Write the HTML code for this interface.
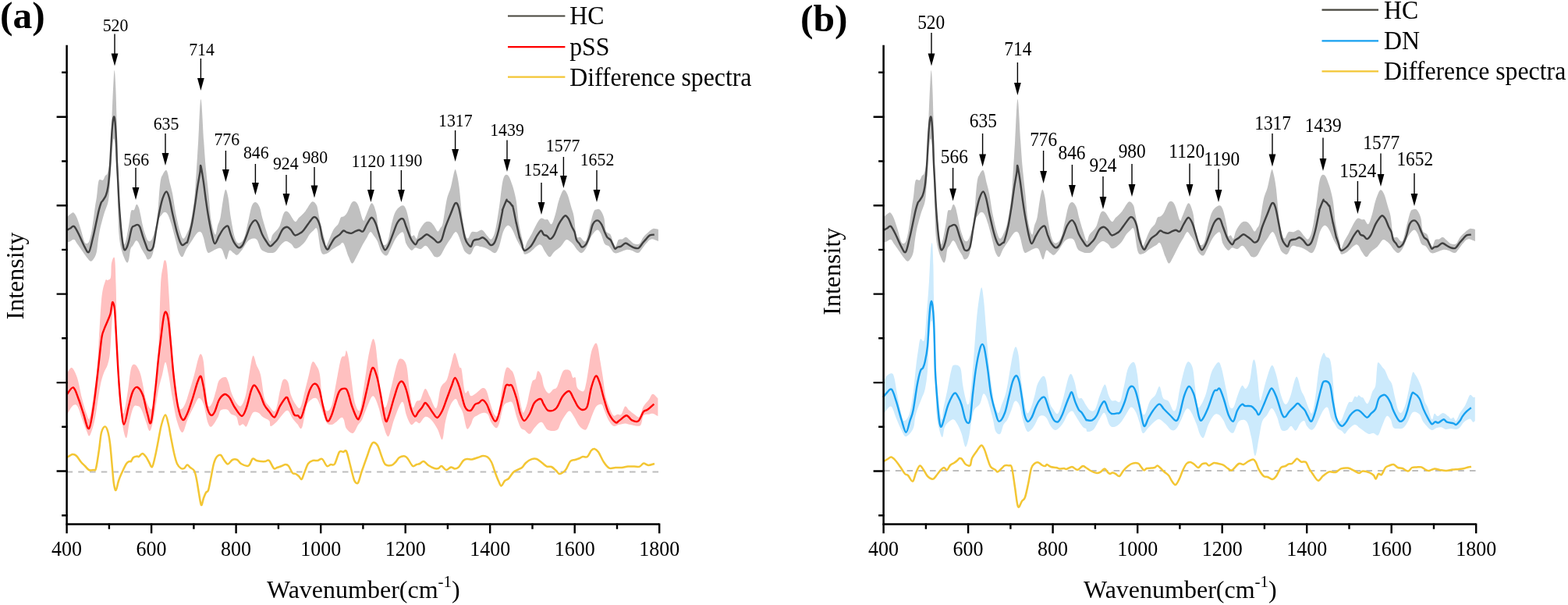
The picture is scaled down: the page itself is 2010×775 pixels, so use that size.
<!DOCTYPE html><html><head><meta charset="utf-8"><title>Raman spectra</title><style>
html,body{margin:0;padding:0;background:#fff;}
body{width:2010px;height:775px;overflow:hidden;}
svg{display:block;}
text{font-family:"Liberation Serif","Times New Roman",serif;fill:#000;}
.tk{font-size:26px;text-anchor:middle;}
.pk{font-size:21.8px;text-anchor:middle;}
.pkb{font-size:23.4px;text-anchor:middle;}
.lg{font-size:31.8px;}
.ttl{font-size:32px;}
.yl{font-size:32px;text-anchor:middle;}
.pl{font-size:49.5px;font-weight:bold;}
</style></head><body>
<svg width="2010" height="775" viewBox="0 0 2010 775">
<rect width="2010" height="775" fill="#fff"/>
<path d="M86.3 277.8C87.4 276.9 91.2 273.3 92.7 272.6C94.2 271.9 94.5 272.5 95.6 273.8C96.7 275.1 97.8 276.8 99.1 280.2C100.4 283.6 102.3 289.7 103.7 294.1C105.1 298.5 106.2 303.9 107.2 306.8C108.2 309.7 108.6 310.7 109.5 311.5C110.4 312.3 111.5 312.1 112.4 311.5C113.3 310.9 113.9 310.6 114.7 308C115.5 305.4 116.6 300.8 117.5 296C118.4 291.2 119.2 284.3 120 279C120.8 273.7 121.3 268.5 122 264C122.7 259.5 123.2 257.4 124 252C124.8 246.6 125.3 235.2 126.6 231.6C127.9 228 130.6 231.8 132 230.7C133.4 229.6 133.9 226.7 134.8 225.3C135.7 224 136.6 225 137.5 222.6C138.4 220.2 139.4 216.2 140.2 210.8C140.9 205.4 141.4 200.1 142 190C142.6 179.9 143 163.3 143.5 150C144 136.7 144.7 120 145.2 110C145.7 100 146.2 90 146.7 90C147.2 90 147.7 100 148.2 110C148.7 120 149.1 135.8 149.5 150C149.9 164.2 150.2 182.5 150.6 195C151 207.5 151.4 214.5 151.8 225C152.2 235.5 152.6 247.2 153.2 258C153.8 268.8 154.9 281.8 155.6 290C156.3 298.2 156.9 303.2 157.6 307C158.2 310.8 158.7 313.5 159.5 313C160.3 312.5 161.2 308.9 162.3 304C163.4 299.1 165 289.1 166 283.4C167 277.7 167.2 272.4 168.2 270C169.2 267.6 170.8 270.2 171.9 268.9C173 267.5 173.9 262.4 174.9 261.9C175.9 261.3 177 263.5 177.8 265.6C178.7 267.7 179.1 270.6 180 274.5C180.9 278.4 182 285.1 183 289.3C184 293.5 184.8 296.5 186 299.7C187.2 302.9 188.5 307.6 190 308.6C191.5 309.6 193.3 310 195.2 305.6C197 301.2 199.4 293.9 201.1 282.1C202.8 270.4 204 244.9 205.3 235.1C206.6 225.3 207.3 226.2 208.7 223.4C210.1 220.6 212.2 216.5 213.7 218.4C215.2 220.3 216.7 230.1 217.9 235.1C219.2 240.1 219.9 242.2 221.2 248.6C222.4 255 223.8 265.9 225.4 273.7C227 281.5 228.9 290.2 230.5 295.5C232.1 300.8 233.3 304.8 234.7 305.6C236.1 306.5 237.4 303.7 238.9 300.6C240.4 297.5 242.2 294.4 243.9 287.1C245.6 279.8 247.7 267.2 248.9 256.9C250.2 246.6 250.5 237.9 251.4 225.1C252.3 212.3 253.2 196.3 254.2 180C255.2 163.7 256.3 127 257.5 127C258.7 127 260.1 165.3 261.2 180C262.2 194.7 262.8 203.6 263.8 215C264.8 226.4 266.2 237.4 267.4 248.6C268.5 259.8 269.3 273.4 270.7 282.1C272.1 290.8 274.4 299.5 275.8 300.6C277.2 301.7 278 292.4 279.1 288.8C280.2 285.2 281.4 284.1 282.5 278.8C283.6 273.5 284.7 262.9 285.8 256.9C286.9 250.9 288.1 243.2 289.2 242.7C290.3 242.1 291.5 247.6 292.6 253.6C293.7 259.6 294.5 270.4 295.9 278.8C297.3 287.2 299.2 298.4 300.9 303.9C302.6 309.3 304 311.2 306 311.5C308 311.8 310.8 309.9 312.7 305.6C314.6 301.3 316 292.5 317.7 285.5C319.4 278.5 321.1 268.1 322.8 263.7C324.5 259.3 326.1 258.7 327.8 259C329.5 259.3 331.4 262 332.8 265.3C334.2 268.6 334.8 273.8 336.2 278.8C337.6 283.8 339.5 290.5 341.2 295.5C342.9 300.5 344.8 308.1 346.2 309C347.6 309.9 347.6 303.7 349.6 300.6C351.6 297.5 355.6 295.1 358 290.5C360.4 285.9 361.9 276 363.9 272.9C365.8 269.8 367.3 270.2 369.7 272C372.1 273.8 375.9 282.7 378.1 283.8C380.4 284.9 381 281 383.2 278.8C385.4 276.6 388.7 273.8 391.5 270.4C394.3 267 397.5 259.9 399.9 258.6C402.3 257.3 404.4 260.3 405.8 262.8C407.2 265.3 407.3 269.1 408.3 273.7C409.3 278.3 410.3 284.6 411.7 290.5C413.1 296.4 415.7 304.7 416.7 309C417.7 313.3 415.9 318.8 417.6 316.5C419.3 314.2 424.2 300.4 426.8 295.5C429.4 290.6 431.8 289.9 433.5 287.1C435.2 284.3 435.6 280.5 436.8 278.8C438.1 277.1 439.6 278.2 441 277.1C442.4 276 443.4 275.1 445.2 272C447 268.9 449.6 260.3 451.9 258.6C454.1 256.9 456.4 258.1 458.7 262C460.9 265.9 463.7 279.6 465.4 282.1C467.1 284.6 466.9 280.7 468.7 277.1C470.5 273.5 474.1 261.2 476.3 260.3C478.5 259.4 480.7 267 482.1 272C483.5 277 483.9 284.3 484.7 290.5C485.5 296.7 485.9 305.1 487.2 309C488.4 312.9 490.5 314 492.2 314C493.9 314 495.5 313.8 497.2 309C498.9 304.2 500.6 291.9 502.3 285.5C504 279.1 505.1 274.1 507.3 270.4C509.5 266.7 513.5 263.6 515.7 263.3C517.9 263 519 264.2 520.7 268.7C522.4 273.2 524.7 284.9 525.8 290.5C526.9 296.1 526.6 300.4 527.4 302.2C528.2 304 529.7 300.8 530.8 301.4C531.9 302 533.1 306.6 534.2 305.6C535.3 304.6 535.8 298.9 537.5 295.5C539.2 292.1 542 287.4 544.2 285.5C546.4 283.6 548.9 283.6 550.9 284.1C552.9 284.7 554.3 286.8 556 288.8C557.7 290.9 559.6 295.8 561 296.4C562.4 297 563.3 294 564.4 292.2C565.5 290.4 566.3 291.6 567.7 285.5C569.1 279.4 571.1 262.9 572.8 255.3C574.5 247.8 576.1 246.3 577.8 240.2C579.5 234 581.5 221.5 582.8 218.4C584 215.3 584.3 218.1 585.3 221.7C586.3 225.3 587.6 231.5 588.7 240.2C589.8 248.9 590.9 264.5 592 273.7C593.1 282.9 594.1 290.2 595.4 295.5C596.7 300.8 598.1 305.3 599.6 305.6C601.1 305.9 602.7 298.6 604.6 297.2C606.5 295.8 609 297.6 611.3 297.2C613.5 296.8 615.9 293.9 618.1 294.7C620.4 295.5 622.8 300.2 624.8 302.2C626.8 304.1 628.1 307.5 629.8 306.4C631.5 305.3 633.1 302.4 634.8 295.5C636.5 288.6 638.2 276.2 639.9 265.3C641.6 254.4 643.1 236.9 644.9 230.1C646.7 223.2 648.8 223.1 650.8 224.2C652.8 225.3 654.8 231.4 656.6 236.8C658.4 242.2 660.3 248.8 661.7 256.9C663.1 265 663.6 276.8 665 285.5C666.4 294.2 669 303.4 670.1 309C671.2 314.6 670.9 319 671.9 319C672.9 319 674.4 312.4 676.1 309C677.8 305.6 679.8 302.8 681.9 298.9C684 295 686.7 288.7 688.7 285.5C690.7 282.3 692 280.3 693.7 279.6C695.4 278.9 697.3 281 698.7 281.3C700.1 281.6 700.7 280.3 702.1 281.3C703.5 282.3 705.4 288.4 707.1 287.1C708.8 285.8 710.6 278.7 712.1 273.7C713.6 268.7 714.6 261.9 716.3 256.9C718 251.9 720.4 244.9 722.2 243.5C724 242.1 725.5 245 727.2 248.6C728.9 252.2 730.9 260.6 732.3 265.3C733.7 270.1 734.5 271 735.6 277.1C736.7 283.2 737.6 297.7 739 302.2C740.4 306.7 742 302.8 744 303.9C746 305 748.7 311.2 750.7 309C752.7 306.8 754.1 296.7 755.8 290.5C757.5 284.3 759.4 275.7 760.8 272C762.2 268.3 762.8 268.9 764.2 268.4C765.6 267.8 767.5 267 769.2 268.7C770.9 270.4 773 274.3 774.2 278.8C775.5 283.3 775.3 291.9 776.7 295.5C778.1 299.1 781.1 298.1 782.6 300.6C784.1 303.1 784.9 308.1 786 310.6C787.1 313.1 788.2 316.2 789.3 315.7C790.4 315.1 791.3 308.9 792.7 307.3C794.1 305.8 796 307 797.7 306.4C799.4 305.8 801.1 303.6 802.8 303.9C804.5 304.2 806.1 306.7 807.8 308.1C809.5 309.5 810.8 311.6 812.8 312.3C814.8 313 817.5 313.7 819.5 312.3C821.5 310.9 822.6 306.4 824.6 303.9C826.6 301.4 829.2 299 831.3 297.2C833.4 295.4 835 293.6 837.1 293C839.2 292.4 842.8 293.8 843.9 293.9L843.9 309C842.4 308.6 837.3 305.8 834.6 306.4C831.9 306.9 829.9 310.2 827.9 312.3C825.9 314.4 824.6 317 822.9 319C821.2 321 820.1 323.8 817.9 324.1C815.7 324.4 812 321.4 809.5 320.7C807 320 805 319.6 802.8 319.9C800.5 320.2 798.5 321.7 796 322.4C793.5 323.1 790.2 325.2 787.7 324.1C785.2 323 783 317.7 780.9 315.7C778.8 313.7 776.9 315.1 775.1 312.3C773.3 309.5 771.7 301.8 770 298.9C768.3 296 767.1 293.9 765 294.7C762.9 295.5 759.6 300.1 757.4 303.9C755.2 307.7 753.5 313.9 751.6 317.3C749.7 320.7 747.7 323.7 745.7 324.1C743.7 324.5 741.5 321.6 739.8 319.9C738.1 318.2 737 315.7 735.6 314C734.2 312.3 733.1 310.9 731.4 309.8C729.7 308.7 727.7 306.3 725.6 307.3C723.5 308.3 721.4 313.2 718.9 315.7C716.4 318.2 712.9 320.2 710.5 322.4C708.1 324.6 706.6 329.1 704.6 329.1C702.6 329.1 700.5 324.9 698.7 322.4C696.9 319.9 695.4 315.3 693.7 314C692 312.7 690.9 313.4 688.7 314.8C686.5 316.2 683 320.6 680.3 322.4C677.6 324.2 674.4 326 672.7 325.7C671 325.4 671.7 323.5 670.1 320.7C668.5 317.9 665.6 313.5 663.4 309C661.1 304.5 658.7 297.3 656.6 293.9C654.5 290.5 652.8 288.2 650.8 288.8C648.8 289.4 646.7 292.7 644.9 297.2C643.1 301.7 641.6 311.2 639.9 315.7C638.2 320.2 636.8 323.3 634.8 324.1C632.8 324.9 630.3 321.8 628.1 320.7C625.9 319.6 623.6 318.1 621.4 317.3C619.2 316.5 616.8 316 614.7 315.7C612.6 315.4 610.8 314 608.8 315.7C606.8 317.4 605.1 324.6 603 325.7C600.9 326.8 597.9 324.1 596.2 322.4C594.5 320.7 594.3 319.1 592.9 315.7C591.5 312.3 589.4 305.3 587.9 302.2C586.4 299.1 585.4 296.6 583.7 297.2C582 297.8 579.9 302.5 577.8 305.6C575.7 308.7 573.3 312.1 571.1 315.7C568.9 319.3 566.6 325.2 564.4 327.4C562.2 329.6 559.7 329.9 557.7 329.1C555.7 328.3 554.6 324.8 552.6 322.4C550.6 320 548.1 315.4 545.9 314.8C543.7 314.2 541.4 318.6 539.2 319C537 319.4 534.5 317 532.5 317.3C530.5 317.6 529.4 321.5 527.4 320.7C525.4 319.9 522.4 315.9 520.7 312.3C519 308.7 518.5 301.3 517.4 298.9C516.3 296.5 515.7 297 514 298.1C512.3 299.2 509.5 302.1 507.3 305.6C505.1 309.1 502.6 315.4 500.6 319C498.7 322.6 497.6 326.8 495.6 327.4C493.7 328 490.9 325.5 488.9 322.4C486.9 319.3 485.5 312.5 483.8 309C482.1 305.5 480.3 303.4 478.8 301.4C477.3 299.4 476.1 296.5 474.6 297.2C473.1 297.9 471.4 302.5 469.6 305.6C467.8 308.7 465.8 311.8 463.7 315.7C461.6 319.6 459 325.5 457 329.1C455 332.7 453.3 337.5 451.6 337.5C449.9 337.5 448.8 333.4 446.9 329.1C445 324.8 442.1 314 440.2 311.5C438.2 309 437.4 312.8 435.2 314C433 315.2 429.6 317.2 426.8 319C424 320.8 420.9 324.3 418.4 324.9C415.9 325.5 413.7 327.6 411.7 322.4C409.7 317.2 408.3 298.4 406.6 293.9C404.9 289.4 403.3 294.4 401.6 295.5C399.9 296.6 398.3 298.4 396.6 300.6C394.9 302.9 393.5 306.5 391.5 309C389.5 311.5 387 314.2 384.8 315.7C382.6 317.2 380.1 318.8 378.1 318.2C376.2 317.6 375.1 313.8 373.1 312.3C371.2 310.8 368.6 308.7 366.4 309C364.2 309.3 361.9 311.8 359.7 314C357.5 316.2 355.2 320.7 353 322.4C350.8 324.1 348.4 324.1 346.2 324.1C343.9 324.1 341.4 323.2 339.5 322.4C337.6 321.5 336.2 321.5 334.5 319C332.8 316.5 331.2 309.5 329.5 307.3C327.8 305.1 326.4 305.3 324.4 305.6C322.4 305.9 319.9 306.8 317.7 309C315.5 311.2 313.2 316.1 311 319C308.8 321.9 306.2 325.8 304.3 326.6C302.4 327.5 301 325.1 299.3 324.1C297.6 323.1 295.8 319.3 294.2 320.7C292.6 322.1 291.7 332.7 290 332.4C288.3 332.1 286.3 321.2 284.2 319C282.1 316.8 279.6 318.4 277.4 319C275.1 319.6 272.6 321.8 270.7 322.4C268.8 323 267.4 325.5 265.7 322.4C264 319.3 262.1 308.1 260.7 303.9C259.3 299.7 258.7 298 257.3 297.2C255.9 296.4 254.2 296.9 252.3 298.9C250.4 300.9 247.8 305.6 245.6 309C243.4 312.4 240.9 315.6 238.9 319C236.9 322.4 235.5 328.5 233.8 329.1C232.1 329.7 230.2 325.8 228.8 322.4C227.4 319 226.9 314.9 225.4 309C223.9 303.1 221.3 292.7 219.6 287.1C217.9 281.5 216.8 278 215.4 275.4C214 272.8 212.6 271.7 211.2 271.7C209.8 271.7 208.6 273.1 207 275.4C205.4 277.7 203.7 277.4 201.9 285.5C200.1 293.6 198.1 316.3 196.1 324.1C194.1 331.9 191.7 332 190 332.4C188.3 332.8 187.4 328.6 186 326.4C184.6 324.2 183 321.7 181.5 319C180 316.3 178.3 311.7 177.1 310C175.9 308.3 175.2 307.8 174.1 308.6C173 309.4 171.5 312.9 170.4 314.6C169.3 316.3 168.3 316 167.4 319C166.5 322 166 329.6 165.2 332.4C164.3 335.2 163.8 337.7 162.3 336C160.8 334.3 157.9 328 156.3 322C154.7 316 153.4 311.2 152.5 300C151.6 288.8 151.5 269.2 151 255C150.5 240.8 150.1 226.7 149.5 215C148.9 203.3 148.2 191.2 147.5 185C146.8 178.8 146.2 176.3 145.5 178C144.8 179.7 144.1 188.3 143.5 195C142.9 201.7 142.6 209.7 142 218C141.4 226.3 140.8 238.1 140.2 245C139.6 251.9 139.4 255 138.4 259.5C137.4 264 135.3 267.8 134 272C132.7 276.2 131.4 281.1 130.4 284.8C129.4 288.5 128.9 290.2 128.1 294.1C127.3 298 126.5 303.4 125.8 308C125.1 312.6 124.8 318.2 124 321.9C123.2 325.6 122.3 327.9 121.1 330C119.8 332.1 118.2 334.9 116.5 334.7C114.8 334.5 112.6 331.2 110.7 328.9C108.8 326.6 106.8 323.5 104.9 320.8C103 318.1 100.8 314.9 99.1 312.6C97.4 310.3 96.5 307.4 95 306.8C93.5 306.2 91.2 308.6 89.8 309.2C88.3 309.8 86.9 310.1 86.3 310.3Z" fill="#c0c0c0"/>
<path d="M86 478C87 476.8 89.8 470 92 471C94.2 472 96.8 477.5 99 484C101.2 490.5 103 502.3 105 510C107 517.7 109.3 525.8 111 530C112.7 534.2 113.3 540 115 535C116.7 530 119.3 511.7 121 500C122.7 488.3 123.5 484.2 125 465C126.5 445.8 128.3 402.5 130 385C131.7 367.5 133.7 364.3 135 360C136.3 355.7 136.8 359.8 138 359C139.2 358.2 141.2 358.7 142 355C142.8 351.3 142.2 341 143 337C143.8 333 146.1 326.3 147 331C147.9 335.7 148.2 352.7 148.6 365C149 377.3 149.1 392.5 149.4 405C149.7 417.5 149.6 424.2 150.2 440C150.8 455.8 152 486 153 500C154 514 155 519.3 156 524C157 528.7 157.7 532 159 528C160.3 524 162.5 509.3 164 500C165.5 490.7 166.5 477.5 168 472C169.5 466.5 171.2 466.3 173 467C174.8 467.7 177.3 471.8 179 476C180.7 480.2 181.7 486 183 492C184.3 498 185.3 506.7 187 512C188.7 517.3 191.3 523.3 193 524C194.7 524.7 195.7 521.7 197 516C198.3 510.3 199.9 502.7 201 490C202.1 477.3 202.7 460.8 203.5 440C204.3 419.2 205.1 381.5 206 365C206.9 348.5 208.2 346.3 209 341C209.8 335.7 210.2 333.4 211 333.4C211.8 333.4 213 332.4 214 341C215 349.6 216 368.5 217 385C218 401.5 218.9 424.2 220 440C221.1 455.8 222.5 468.3 223.5 480C224.5 491.7 224.8 502.7 226 510C227.2 517.3 229.2 522.7 231 524C232.8 525.3 235 522 237 518C239 514 241 506.3 243 500C245 493.7 247.2 486.7 249 480C250.8 473.3 252.6 464.4 254 460C255.4 455.6 256.2 452.9 257.4 453.6C258.6 454.3 259.9 456.3 261 464C262.1 471.7 263 490.7 264 500C265 509.3 265.7 517.3 267 520C268.3 522.7 270.3 519.3 272 516C273.7 512.7 275.5 504.8 277 500C278.5 495.2 279 489.8 281 487C283 484.2 287 482.5 289 483C291 483.5 291.7 486.5 293 490C294.3 493.5 295.3 499.7 297 504C298.7 508.3 301 513.3 303 516C305 518.7 307 521.7 309 520C311 518.3 313.2 513.3 315 506C316.8 498.7 318.4 484.4 320 476C321.6 467.6 322.9 456.9 324.4 455.6C325.9 454.3 327.4 463.9 329 468C330.6 472.1 332.3 473 334 480C335.7 487 337.2 503.3 339 510C340.8 516.7 342.7 517.3 345 520C347.3 522.7 350.7 529.3 353 526C355.3 522.7 357.3 506.6 359 500C360.7 493.4 361.3 488.2 363 486.4C364.7 484.6 367.3 485.7 369 489C370.7 492.3 371.3 501.2 373 506C374.7 510.8 377 515.3 379 518C381 520.7 383 525 385 522C387 519 389.2 507 391 500C392.8 493 394.4 486.1 396 480C397.6 473.9 398.9 465.4 400.6 463.6C402.3 461.8 404.4 466.3 406 469C407.6 471.7 408.8 473.2 410 480C411.2 486.8 411.7 502.3 413 510C414.3 517.7 416 524.3 418 526C420 527.7 422.8 526 425 520C427.2 514 429 500 431 490C433 480 435.2 465.7 437 460C438.8 454.3 440.8 457.8 442 456C443.2 454.2 443.2 448.3 444 449C444.8 449.7 445.8 453.2 447 460C448.2 466.8 449.7 480.7 451 490C452.3 499.3 453.3 510 455 516C456.7 522 459.3 527.8 461 526C462.7 524.2 463.7 513 465 505C466.3 497 467.8 485.8 469 478C470.2 470.2 470.6 465.2 472 458C473.4 450.8 476 438 477.5 435C479 432 480 435.8 481 440C482 444.2 482.8 453.3 483.5 460C484.2 466.7 484.8 472.7 485.5 480C486.2 487.3 486.6 497 488 504C489.4 511 491.8 523 494 522C496.2 521 498.5 507.3 501 498C503.5 488.7 506.8 472.4 509 466C511.2 459.6 512 459.3 514 459.6C516 459.9 519.2 461.3 521 468C522.8 474.7 523.7 491 525 500C526.3 509 527.5 519.7 529 522C530.5 524.3 532.3 515.7 534 514C535.7 512.3 537.2 514.7 539 512C540.8 509.3 543 498.7 545 498C547 497.3 548.7 503.8 551 508C553.3 512.2 556.8 524.3 559 523C561.2 521.7 562.7 505 564 500C565.3 495 565.5 495.3 567 493C568.5 490.7 571.2 490.2 573 486C574.8 481.8 576.3 473.7 578 468C579.7 462.3 581.2 451.7 583 452C584.8 452.3 587.5 466.4 589 470C590.5 473.6 590.6 468.2 591.7 473.6C592.9 479 594.5 497.6 595.9 502.1C597.3 506.6 598.8 499.6 600.1 500.5C601.4 501.4 601.8 506.6 603.5 507.2C605.2 507.8 607.7 505.5 610.2 503.8C612.7 502.1 616.4 497.7 618.6 497.1C620.8 496.6 621.9 497.1 623.6 500.5C625.3 503.9 626.9 512.2 628.6 517.2C630.3 522.2 632 528.5 633.7 530.7C635.4 533 637 536.3 638.7 530.7C640.4 525.1 642 506.9 643.7 497.1C645.4 487.3 646.8 475.7 648.8 471.9C650.8 468.1 653.8 473.1 655.5 474.5C657.2 475.9 657.4 476 658.8 480.3C660.2 484.6 662.2 493.2 663.9 500.5C665.6 507.8 667.6 519.4 668.9 524C670.1 528.6 670.3 529.3 671.4 528.2C672.5 527.1 674.5 521 675.6 517.2C676.7 513.4 677 510.2 678.1 505.5C679.2 500.8 680.9 492.1 682.3 488.7C683.7 485.3 685.3 487.6 686.5 485.4C687.7 483.2 688.1 476 689.4 475.3C690.7 474.6 692.8 477.9 694.1 481.2C695.4 484.5 695.9 491.6 697.4 495.4C698.9 499.2 701.3 503.2 703.3 503.8C705.3 504.4 707.4 500.2 709.2 498.8C711 497.4 712.2 499 714.2 495.4C716.2 491.8 719 480.6 720.9 477C722.8 473.4 724.2 473.9 725.9 473.6C727.6 473.3 729.6 473.6 731 475.3C732.4 477 733.2 482.3 734.3 483.7C735.4 485.1 736.7 481.5 737.7 483.7C738.7 485.9 738.5 494.2 740.2 497.1C741.9 500 746 502.1 747.8 501.3C749.6 500.5 750 497 751.1 492.1C752.2 487.2 753.4 478.6 754.5 471.9C755.6 465.2 756.4 457.1 757.8 451.8C759.2 446.5 761.5 441.5 762.9 440.1C764.3 438.7 765.1 439.5 766.2 443.4C767.3 447.3 768.5 456.9 769.6 463.6C770.7 470.3 771.8 476.4 772.9 483.7C774 491 774.9 500.8 776.3 507.2C777.7 513.6 779.6 518.1 781.3 522.3C783 526.5 784.6 530.9 786.3 532.3C788 533.7 789.7 531 791.4 530.7C793.1 530.4 794.7 532.4 796.4 530.7C798.1 529 799.7 521.5 801.4 520.6C803.1 519.8 804.5 523.9 806.5 525.6C808.5 527.3 811 529.3 813.2 530.7C815.4 532.1 818 535.7 819.9 534C821.8 532.3 822.9 524.2 824.9 520.6C826.9 517 829.6 514.9 831.6 512.2C833.6 509.6 834.7 505 836.7 504.7C838.7 504.4 842.3 509.5 843.4 510.5L843.4 533.2C842.3 532.6 838.7 530.2 836.7 529.8C834.7 529.4 833.6 530.3 831.6 530.7C829.6 531.1 826.6 530.1 824.9 532.3C823.2 534.5 823 541.9 821.6 544.1C820.2 546.4 818.7 545.8 816.5 545.8C814.3 545.8 810.7 544.7 808.2 544.1C805.7 543.5 803.9 542.4 801.4 542.4C798.9 542.4 795.6 543.5 793.1 544.1C790.6 544.7 788.5 546.9 786.3 545.8C784 544.7 781.5 540.8 779.6 537.4C777.7 534 776 528.8 774.6 525.6C773.2 522.4 772.9 518.9 771.2 518.1C769.5 517.3 766.5 518.5 764.5 520.6C762.5 522.7 761.2 526.8 759.5 530.7C757.8 534.6 756 540.8 754.5 544.1C753 547.5 752.3 550.5 750.3 550.8C748.3 551.1 745.1 548.6 742.7 545.8C740.3 543 738.1 537.2 736 534C733.9 530.8 732.1 526.8 730.1 526.5C728.1 526.2 726.1 529.9 724.3 532.3C722.5 534.7 720.9 537.6 719.2 540.7C717.5 543.8 717 549.1 714.2 550.8C711.4 552.5 705.8 552.5 702.4 550.8C699 549.1 696.9 541.3 694.1 540.7C691.3 540.1 688.2 544.9 685.7 547.4C683.2 549.9 681.2 555.2 679 555.8C676.8 556.4 674.2 552.2 672.2 550.8C670.2 549.4 668.9 550.2 667.2 547.4C665.5 544.6 663.9 539.2 662.2 534C660.5 528.8 658.9 519.5 657.1 516.4C655.3 513.3 653.2 514.9 651.3 515.6C649.3 516.3 647.2 516.4 645.4 520.6C643.6 524.8 641.9 536.1 640.4 540.7C638.9 545.3 638 548.3 636.2 548.3C634.4 548.3 631.3 543.6 629.5 540.7C627.7 537.8 627.1 532.7 625.3 530.7C623.5 528.8 620.9 528.7 618.6 529C616.4 529.3 613.8 531.2 611.8 532.3C609.8 533.4 608.2 533.7 606.8 535.7C605.4 537.7 604.9 541.9 603.5 544.1C602.1 546.3 600.1 551.6 598.4 549.1C596.7 546.6 595.1 534 593.4 529C591.7 524 590 521.9 588.4 518.9C586.8 515.9 585.9 510.8 584 511C582.1 511.2 579.2 515.2 577 520C574.8 524.8 572.7 532.8 571 540C569.3 547.2 568.7 561.3 567 563C565.3 564.7 563.3 554.2 561 550C558.7 545.8 555.7 540.7 553 538C550.3 535.3 547.5 533.3 545 534C542.5 534.7 540 541 538 542C536 543 534.8 539.7 533 540C531.2 540.3 529 545.3 527 544C525 542.7 522.7 536.7 521 532C519.3 527.3 518.3 518.3 517 516C515.7 513.7 515 514.3 513 518C511 521.7 507.5 531.1 505 538C502.5 544.9 500.1 558.2 497.8 559.2C495.5 560.2 493.1 550 491.1 544.1C489.1 538.2 487.7 529.6 486 524C484.3 518.4 482.5 513.2 481 510.5C479.5 507.8 478.5 506.3 476.8 508C475.1 509.7 473 515.7 470.9 520.6C468.8 525.5 466.1 533.5 464.2 537.4C462.2 541.3 461.1 541.2 459.2 544.1C457.2 547 455 554.2 452.5 555C450 555.8 446.1 552 444.1 549.1C442.1 546.2 441.8 539.8 440.7 537.4C439.6 535 439.1 534.3 437.4 534.9C435.7 535.5 432.8 539.2 430.7 540.7C428.6 542.2 426.9 543.8 425 544C423.1 544.2 420.7 544 419 542C417.3 540 416.7 536.3 415 532C413.3 527.7 410.7 519.7 409 516C407.3 512.3 406.7 510.7 405 510C403.3 509.3 401 510.3 399 512C397 513.7 395 514 393 520C391 526 389 544.2 387 548C385 551.8 383 545 381 543C379 541 377 538.8 375 536C373 533.2 371 527 369 526C367 525 365.3 527.7 363 530C360.7 532.3 357.7 537.3 355 540C352.3 542.7 348.6 546.2 347 546C345.4 545.8 346.8 541 345.1 539C343.4 537 338.9 535.7 336.7 534C334.4 532.3 333.6 529.9 331.6 528.9C329.6 527.9 326.8 526.7 324.9 528.1C322.9 529.5 321.4 534.2 319.9 537.3C318.4 540.4 317.1 545.5 315.7 546.5C314.3 547.5 313 543.5 311.5 543.2C310 542.9 307.9 546.4 306.5 544.9C305.1 543.4 304.8 536.4 303.1 534C301.4 531.6 298.3 532.1 296.4 530.6C294.4 529.1 293.6 525.5 291.4 524.7C289.2 523.9 285 524.1 283 525.6C281 527.1 281.6 530.5 279.6 534C277.6 537.5 273.4 545.4 271.2 546.5C269 547.6 267.9 545.5 266.2 540.7C264.5 536 262.9 523.1 261 518C259.1 512.9 257 509.7 255 510C253 510.3 251.3 515.7 249 520C246.7 524.3 243.5 530.3 241 536C238.5 541.7 236.3 553.3 234 554C231.7 554.7 229.2 547.3 227 540C224.8 532.7 222.8 520 221 510C219.2 500 217.5 487.7 216 480C214.5 472.3 213.3 464 212 464C210.7 464 209.5 474 208 480C206.5 486 204.8 490.7 203 500C201.2 509.3 198.8 527.3 197 536C195.2 544.7 193.7 551.3 192 552C190.3 552.7 188.8 544.7 187 540C185.2 535.3 182.8 527.3 181 524C179.2 520.7 177.7 520.3 176 520C174.3 519.7 172.7 518.7 171 522C169.3 525.3 167.5 533.5 166 540C164.5 546.5 163.5 560.3 162 561C160.5 561.7 158.7 554.2 157 544C155.3 533.8 153.1 512.3 152 500C150.9 487.7 151.1 482.5 150.5 470C149.9 457.5 149.2 438.2 148.5 425C147.8 411.8 147.1 396 146.5 391C145.9 386 145.6 390.2 145 395C144.4 399.8 143.7 410.5 143 420C142.3 429.5 141.8 444.2 141 452C140.2 459.8 139.3 462.7 138 467C136.7 471.3 134.5 473.8 133 478C131.5 482.2 130.3 485.7 129 492C127.7 498.3 126.3 508 125 516C123.7 524 122.7 533 121 540C119.3 547 116.7 556 115 558C113.3 560 112.7 555.7 111 552C109.3 548.3 107 541.3 105 536C103 530.7 101 522.7 99 520C97 517.3 95.2 518.2 93 520C90.8 521.8 87.2 529.2 86 531Z" fill="#ffc0c0"/>
<path d="M86.3 294.7C86.9 294.3 88.5 293.3 90 292.5C91.5 291.7 93.1 288.6 95 290C96.9 291.4 99.2 296.6 101.4 301C103.6 305.4 106.3 312.5 108.4 316.1C110.5 319.8 112.2 324.6 113.9 322.9C115.6 321.2 117.2 312 118.8 305.7C120.4 299.4 122.1 291 123.4 284.8C124.8 278.6 125.8 272.9 126.9 268.6C128 264.4 129.1 261.1 129.8 259.3C130.5 257.5 130.2 259.2 131.2 257.7C132.2 256.2 134.5 253.5 135.7 250.5C136.9 247.5 137.7 244.2 138.4 239.7C139.2 235.2 139.7 229.3 140.2 223.5C140.7 217.7 141.1 212.2 141.5 205C141.9 197.8 142.4 187.2 142.8 180C143.2 172.8 143.6 166.5 144 162C144.4 157.5 144.7 155.1 145 153C145.3 150.9 145.7 149.7 146 149.5C146.3 149.3 146.7 149.9 147 152C147.3 154.1 147.7 157.3 148 162C148.3 166.7 148.7 172.8 149 180C149.3 187.2 149.5 196.7 149.8 205C150.2 213.3 150.6 220.9 151.1 230C151.6 239.1 152 249.8 152.6 259.7C153.2 269.6 154.1 280.9 154.8 289.3C155.6 297.7 156.3 304.9 157.1 310C157.8 315.1 158.4 318.6 159.3 319.8C160.2 321.1 161.3 319.4 162.3 317.5C163.3 315.6 164.1 312.8 165.2 308.6C166.3 304.4 167.7 295.5 168.9 292.3C170.1 289.1 171.3 290 172.6 289.3C173.8 288.6 175.3 287.6 176.4 287.9C177.5 288.1 178.2 288.3 179.3 290.8C180.4 293.3 181.8 299 183 302.7C184.2 306.4 185.5 310 186.7 313C187.9 316 188.4 319.8 190 320.5C191.6 321.2 194.4 321.7 196.1 317.3C197.8 312.9 198.9 301.7 200.3 293.9C201.7 286.1 203.1 277.1 204.5 270.4C205.9 263.7 207.2 257.8 208.7 253.6C210.2 249.4 212 245.5 213.4 245.5C214.8 245.5 215.7 248.9 217 253.6C218.3 258.3 219.6 266.7 221.2 273.7C222.8 280.7 224.8 289.6 226.3 295.5C227.9 301.4 229.2 305.9 230.5 309C231.8 312.1 232.4 313.7 233.8 314C235.2 314.3 237.8 311.4 238.9 310.6C240 309.8 239.4 312.6 240.5 309C241.6 305.4 244 296.4 245.6 288.8C247.2 281.2 248.6 271.8 249.8 263.7C251.1 255.6 252 247.5 253.1 240.2C254.2 232.9 255.8 224.6 256.5 220C257.2 215.4 256.7 210.4 257.4 212.4C258.1 214.4 259.6 224.4 260.7 231.8C261.8 239.2 262.9 249.1 264 256.9C265.1 264.7 266.1 271.5 267.4 278.8C268.7 286.1 270.3 295.1 271.6 300.6C272.9 306.1 273.9 311.7 275.4 312C276.9 312.3 279.1 305.2 280.8 302.2C282.5 299.2 284.4 295.8 285.8 293.9C287.2 291.9 288.1 291.1 289.2 290.5C290.3 289.9 291.5 288.5 292.6 290.2C293.7 291.9 294.6 297.2 295.9 300.6C297.1 304 298.4 307.8 300.1 310.6C301.8 313.4 304.2 316.7 306 317.3C307.8 317.9 309.3 316.5 311 314C312.7 311.5 314.3 306.4 316 302.2C317.7 298 319.3 292.1 321.1 288.8C322.9 285.5 325.2 282.4 326.9 282.1C328.6 281.8 329.6 284 331.1 287.1C332.7 290.2 334.5 297 336.2 300.6C337.9 304.2 339.5 306.6 341.2 309C342.9 311.4 344.5 314.9 346.2 315.3C347.9 315.7 349.6 313.1 351.3 311.5C353 309.9 354.5 308.5 356.3 305.6C358.1 302.7 360.2 296.4 362.2 293.9C364.2 291.4 366.3 290.7 368.1 290.8C369.9 290.9 371.4 292.9 373.1 294.7C374.8 296.5 376 300.8 378.1 301.4C380.2 302 383.7 299.4 385.7 298.1C387.7 296.9 388.4 295.7 389.9 293.9C391.4 292.1 392.9 289.7 394.9 287.1C396.8 284.5 399.8 279.6 401.6 278.4C403.4 277.1 404.4 277.9 405.8 279.6C407.2 281.3 408.7 284.5 410 288.8C411.3 293.1 411.9 300.5 413.4 305.6C414.9 310.7 417.5 318 419.2 319.4C420.9 320.8 421.8 316.3 423.4 314C424.9 311.7 426.5 307.8 428.5 305.6C430.5 303.4 433.2 302.3 435.2 300.6C437.1 298.9 438.7 296 440.2 295.5C441.7 295 442.7 297 444.4 297.6C446.1 298.2 448.5 299.1 450.3 298.9C452.1 298.7 453.6 297.1 455.3 296.4C457 295.7 458.6 294.7 460.3 294.7C462 294.7 463.7 297.7 465.4 296.4C467.1 295.1 468.6 290 470.4 287.1C472.2 284.2 474.5 279.1 476.3 278.8C478.1 278.5 479.8 282.1 481.3 285.5C482.8 288.9 484.2 294.7 485.5 298.9C486.8 303.1 487.6 307.1 488.9 310.6C490.2 314.2 491.9 319.6 493.4 320.2C494.9 320.8 496.3 317.6 498.1 314C499.9 310.4 502.1 303.8 504 298.9C505.9 294 507.7 287.7 509.8 284.6C511.9 281.5 514.7 279.4 516.5 280.4C518.3 281.4 519.2 286.6 520.7 290.5C522.2 294.4 524.4 300.7 525.8 303.9C527.2 307.1 527.9 308.2 529.1 309.8C530.3 311.4 531.9 313.5 533 313.2C534.1 312.9 534.5 309.5 535.8 308.1C537.1 306.7 539.1 306.1 540.9 304.8C542.7 303.5 544.9 300.5 546.7 300.2C548.5 299.9 550.1 302 551.8 303.1C553.5 304.2 555.3 305.6 556.8 306.9C558.3 308.1 559.5 310.5 561 310.6C562.5 310.7 564.3 310.7 566 307.3C567.7 303.9 569.1 296.1 571.1 290.5C573.1 284.9 575.7 278.7 577.8 273.7C579.9 268.7 582 261.7 583.7 260.3C585.4 258.9 586.5 261.1 587.9 265.3C589.3 269.5 590.6 278.8 592 285.5C593.4 292.2 594.8 301 596.2 305.6C597.6 310.2 599.1 311.5 600.4 313.2C601.7 314.9 602.7 316.5 603.8 315.7C604.9 314.9 605.4 309.7 607.1 308.1C608.8 306.6 611.9 307 613.9 306.4C615.9 305.8 617.2 304 618.9 304.3C620.6 304.6 622.2 306.5 623.9 308.1C625.6 309.7 627.3 313.6 629 314C630.7 314.4 632.3 313.7 634 310.6C635.7 307.5 637.3 302.2 639 295.5C640.7 288.8 643.2 274.9 644.1 270.4C645 265.9 643.4 271 644.2 268.7C645.1 266.4 648.3 258.6 649.2 256.6C650.1 254.6 648.9 256.4 649.6 256.9C650.3 257.4 652.2 258.4 653.4 259.5C654.6 260.6 655.9 262.7 656.6 263.7C657.3 264.7 656.8 261.7 657.6 265.3C658.5 268.9 661 282.1 661.7 285.5C662.4 288.9 661.1 282.4 661.8 285.5C662.5 288.6 665.2 300.8 665.9 303.9C666.6 307 665.4 302.2 666 303.9C666.6 305.6 668.7 311.8 669.4 314C670.1 316.2 669.5 316.1 670.1 317.3C670.7 318.5 671.2 321.1 672.7 321C674.2 320.9 677.6 318.2 679.4 316.5C681.2 314.8 682 313.1 683.6 310.6C685.2 308.1 687 303.9 688.7 301.4C690.4 298.9 692.3 295.6 693.7 295.5C695.1 295.4 695.8 299.5 697 300.6C698.2 301.7 699.8 301.3 701.2 302.2C702.6 303.1 703.9 306.4 705.4 306.1C706.9 305.8 708.7 303.8 710.5 300.6C712.3 297.4 714.6 290.5 716.3 287.1C718 283.7 719.1 282.2 720.5 280.4C721.9 278.6 723.3 276.2 724.7 276.2C726.1 276.2 727.5 278 728.9 280.4C730.3 282.8 731.8 287.7 733.1 290.5C734.4 293.3 735.5 294.4 736.5 297.2C737.5 300 738 304.9 739 307.3C740 309.7 741.1 310 742.3 311.5C743.5 313 744.5 316.4 746 316.5C747.5 316.6 750 314.7 751.6 312.3C753.2 309.9 754.4 306.4 755.8 302.2C757.2 298 758.3 290.4 760 287.1C761.7 283.8 764 282.4 765.8 282.4C767.6 282.4 769.3 284.6 770.9 287.1C772.5 289.6 773.9 294.4 775.1 297.2C776.4 300 777.1 302.2 778.4 303.9C779.6 305.6 781.3 305.6 782.6 307.3C783.9 309 785 312.1 786 314C787 315.9 787.5 318.3 788.5 318.7C789.5 319.1 790.5 317 791.8 316.5C793 316 794.3 316.5 796 315.7C797.7 314.9 799.9 311.6 801.9 311.5C803.9 311.4 806 313.8 807.8 314.8C809.6 315.8 811 316.8 812.8 317.3C814.6 317.8 816.9 318.7 818.7 317.7C820.5 316.7 822 313.5 823.7 311.5C825.4 309.5 827.2 307.3 828.8 305.6C830.3 303.9 831.3 302.2 833 301.4C834.7 300.6 837.8 300.7 838.8 300.6" fill="none" stroke="#404040" stroke-width="2.4" stroke-linejoin="round"/>
<path d="M86 505C87.3 503.6 91.5 495.2 94 496.4C96.5 497.6 98.8 506.4 101 512C103.2 517.6 104.8 523.8 107 530C109.2 536.2 111.8 550.7 114 549C116.2 547.3 118.2 531.5 120 520C121.8 508.5 123.3 494.2 125 480C126.7 465.8 128.7 444.5 130 435C131.3 425.5 131.7 427 133 423C134.3 419 136.6 414.5 138 411C139.4 407.5 140.7 405 141.5 402C142.3 399 142.5 395.5 143 393C143.5 390.5 143.9 386.3 144.6 387C145.3 387.7 146.3 389.8 147 397C147.7 404.2 148.2 416.2 149 430C149.8 443.8 150.8 465 151.8 480C152.8 495 153.8 509.4 155 520C156.2 530.6 157.3 543.6 159 543.6C160.7 543.6 163.2 526.9 165 520C166.8 513.1 168.2 506 170 502C171.8 498 173.8 495.3 176 496C178.2 496.7 180.8 500.3 183 506C185.2 511.7 187.2 524.2 189 530C190.8 535.8 191.9 546 193.6 541C195.3 536 197.4 513.5 199 500C200.6 486.5 201.8 470.8 203 460C204.2 449.2 204.8 444.2 206 435C207.2 425.8 208.8 410.8 210 405C211.2 399.2 212 399 213 400C214 401 215 404.2 216 411C217 417.8 217.9 429.5 219 441C220.1 452.5 221 466.8 222.5 480C224 493.2 226.1 510.4 228 520C229.9 529.6 232 535.9 234 537.6C236 539.3 237.8 534.6 240 530C242.2 525.4 244.8 516.7 247 510C249.2 503.3 251.3 494.7 253 490C254.7 485.3 256.1 481 257.4 482C258.7 483 259.7 489.7 261 496C262.3 502.3 263.5 514.1 265 520C266.5 525.9 268.3 530.3 270 531.6C271.7 532.9 273.2 531.3 275 528C276.8 524.7 278.8 515.8 281 512C283.2 508.2 285.8 505.5 288 505C290.2 504.5 291.8 506.2 294 509C296.2 511.8 298.3 518 301 522C303.7 526 307.5 533 310 533C312.5 533 314 527.5 316 522C318 516.5 320.3 504.7 322 500C323.7 495.3 324.6 492.9 326.4 493.6C328.2 494.3 330.9 499.8 333 504C335.1 508.2 337 515.2 339 519C341 522.8 342.8 524.4 345 527C347.2 529.6 349.7 535.6 352 534.4C354.3 533.2 356.5 524.2 359 520C361.5 515.8 365 509.7 367 509C369 508.3 369.3 512.3 371 516C372.7 519.7 375.2 528.3 377 531C378.8 533.7 380.5 531.7 382 532.4C383.5 533.1 384.5 537.1 386 535C387.5 532.9 389.2 525.8 391 520C392.8 514.2 395 504.7 397 500C399 495.3 401 491.9 403 491.6C405 491.3 407.2 493.3 409 498C410.8 502.7 412.3 513.2 414 520C415.7 526.8 417.6 537 419.4 539C421.2 541 422.7 537.5 425 532C427.3 526.5 431.2 511.3 433 506C434.8 500.7 435 501.3 436 500C437 498.7 437.7 498.2 439 498C440.3 497.8 442.6 497 444 498.5C445.4 500 446.2 503.4 447.4 507C448.6 510.6 449.2 515.1 451 520C452.8 524.9 456.3 534.1 458 536.4C459.7 538.7 459.8 536.4 461 534C462.2 531.6 463.3 528.3 465 522C466.7 515.7 469 504.4 471 496C473 487.6 475.2 473.8 477.2 471.5C479.2 469.2 481.2 476.2 483 482C484.8 487.8 486.2 496.7 488 506C489.8 515.3 492.3 533.3 494 538C495.7 542.7 496.2 538.7 498 534C499.8 529.3 502.8 517 505 510C507.2 503 509.2 495.5 511 492C512.8 488.5 514.3 487.7 516 489C517.7 490.3 519.2 494.2 521 500C522.8 505.8 525.2 518.4 527 524C528.8 529.6 530.5 532.9 532 533.6C533.5 534.3 534.5 529.9 536 528C537.5 526.1 539.5 524 541 522C542.5 520 543.7 516.3 545 516C546.3 515.7 547.3 517.8 549 520C550.7 522.2 553.1 526.5 555 529C556.9 531.5 558.6 535.5 560.6 535C562.6 534.5 564.9 530.2 567 526C569.1 521.8 571 515.3 573 510C575 504.7 577.3 498.3 579 494C580.7 489.7 581.7 483.7 583.4 484C585.1 484.3 586.9 489.8 589 496C591.1 502.2 593.7 516 596 521C598.3 526 600.8 526.5 603 526C605.2 525.5 607.2 519.7 609 518C610.8 516.3 612.4 516.9 614 516C615.6 515.1 616.9 512.1 618.6 512.4C620.3 512.7 622.3 515.1 624 518C625.7 520.9 627.2 526.4 629 530C630.8 533.6 632.9 539.3 634.6 539.6C636.3 539.9 637.3 537.3 639 532C640.7 526.7 643.4 514.3 645 508C646.6 501.7 647.2 496.4 648.5 494C649.8 491.6 651.2 493.4 652.5 493.5C653.8 493.6 654.9 491.8 656.5 494.5C658.1 497.2 660.2 504.1 662 510C663.8 515.9 665.3 525.2 667 530C668.7 534.8 670 539 672 539C674 539 676.8 533.8 679 530C681.2 526.2 682.7 519.2 685 516C687.3 512.8 691 510.7 693 511C695 511.3 695.3 515.5 697 518C698.7 520.5 700.3 525.2 703 526C705.7 526.8 710 526 713 523C716 520 718.3 511.7 721 508C723.7 504.3 727.1 500.7 729.4 501C731.7 501.3 733.1 506.7 735 510C736.9 513.3 739 518.5 741 521C743 523.5 745 525.1 747 525C749 524.9 751 525.2 752.8 520.6C754.6 516 756 503.6 757.8 497.1C759.6 490.6 761.9 482.8 763.7 481.7C765.5 480.6 766.9 485.3 768.7 490.4C770.5 495.5 772.6 505.6 774.6 512.2C776.6 518.8 778.1 525 780.5 529.8C782.9 534.6 786.7 539.6 788.9 541.1C791.1 542.6 791.5 540.2 793.9 538.7C796.3 537.2 800.5 532.4 803.1 532.3C805.8 532.2 807.3 537 809.8 538.2C812.3 539.4 815.7 541.2 818.2 539.4C820.7 537.6 822.9 529.7 824.9 527.3C826.9 524.9 827.8 526.4 830 524.8C832.2 523.2 837 518.8 838.4 517.6" fill="none" stroke="#ff0000" stroke-width="2.4" stroke-linejoin="round"/>
<path d="M85.54 604.4H845" stroke="#bdbdbd" stroke-width="2" stroke-dasharray="7.6 7.124"/>
<path d="M86 586C87.2 585.3 91 582.3 93 582C95 581.7 96.2 582.3 98 584C99.8 585.7 102.2 589.8 104 592C105.8 594.2 107.3 595.3 109 597C110.7 598.7 112.2 601.2 114 602C115.8 602.8 118.5 602.3 120 602C121.5 601.7 121.8 604.3 123 600C124.2 595.7 125.8 583.7 127 576C128.2 568.3 128.7 558.9 130 554C131.3 549.1 133.3 546.7 134.6 546.4C135.9 546.1 136.9 548.4 138 552C139.1 555.6 140 560 141 568C142 576 143.2 591.3 144 600C144.8 608.7 145.2 615.3 146 620C146.8 624.7 147.6 628.7 148.6 628C149.6 627.3 150.8 619.7 152 616C153.2 612.3 154.3 609.7 156 606C157.7 602.3 160.3 596.5 162 594C163.7 591.5 165 591.5 166 591C167 590.5 167.2 591.8 168 591C168.8 590.2 169.7 587.1 171 586C172.3 584.9 174.8 584.6 176 584.4C177.2 584.2 176.9 585.6 178 585C179.1 584.4 181.1 581 182.6 581C184.1 581 185.6 583.2 187 585C188.4 586.8 189.7 589.8 191 592C192.3 594.2 193.7 599.3 195 598C196.3 596.7 197.7 589.7 199 584C200.3 578.3 201.7 570.7 203 564C204.3 557.3 205.5 549.4 207 544C208.5 538.6 210.5 531.6 212 531.6C213.5 531.6 214.8 539.3 216 544C217.2 548.7 217.8 554 219 560C220.2 566 221.7 574.3 223 580C224.3 585.7 225.5 590.7 227 594C228.5 597.3 230.5 599 232 600C233.5 601 234.7 600.7 236 600C237.3 599.3 238.7 595.8 240 595.6C241.3 595.4 242.5 597.8 244 599C245.5 600.2 247.7 600.5 249 603C250.3 605.5 251 609.2 252 614C253 618.8 254 626.5 255 632C256 637.5 257 646 258 647C259 648 260 640.7 261 638C262 635.3 263 632.7 264 631C265 629.3 266 630.8 267 628C268 625.2 268.8 619.7 270 614C271.2 608.3 272.7 598.8 274 594C275.3 589.2 276.5 586.8 278 585C279.5 583.2 281.5 582.3 283 583C284.5 583.7 285.5 587.1 287 589C288.5 590.9 290.2 594.4 292 594.4C293.8 594.4 296 589.9 298 589C300 588.1 302.2 588.2 304 589C305.8 589.8 306.8 592.7 309 594C311.2 595.3 315.2 596.8 317 597C318.8 597.2 318.8 596.6 320 595C321.2 593.4 322.5 588.4 324 587.6C325.5 586.8 327.2 589.4 329 590C330.8 590.6 333.2 590.8 335 591C336.8 591.2 338.3 591.2 340 591C341.7 590.8 343.2 588.5 345 590C346.8 591.5 349.3 598.5 351 600C352.7 601.5 353.3 599.5 355 599C356.7 598.5 359.2 597.7 361 597C362.8 596.3 364.5 595 366 595C367.5 595 368.5 595.2 370 597C371.5 598.8 373.5 604.3 375 606C376.5 607.7 377.7 606.3 379 607C380.3 607.7 381.7 608.8 383 610C384.3 611.2 385.4 614.7 386.6 614C387.8 613.3 388.6 609.3 390 606C391.4 602.7 393.2 596.7 395 594C396.8 591.3 399 590.7 401 590C403 589.3 405 590.3 407 590C409 589.7 411 586.8 413 588C415 589.2 417.2 595.8 419 597C420.8 598.2 422.3 595.4 424 595C425.7 594.6 427.2 597.1 429 594.4C430.8 591.7 433.2 581.6 435 579C436.8 576.4 438.5 579.2 440 579C441.5 578.8 442.7 575.8 444 578C445.3 580.2 446.7 587 448 592C449.3 597 450.8 603.8 452 608C453.2 612.2 453.8 615.3 455 617C456.2 618.7 457.7 620.2 459 618.4C460.3 616.6 461.8 609.7 463 606C464.2 602.3 465.1 600 466.5 596C467.9 592 470.1 586 471.5 582C472.9 578 473.8 574.5 475 572C476.2 569.5 477.1 567 478.6 566.8C480.1 566.6 482.5 568.1 484.2 571C485.9 573.9 487.4 580 489 584C490.6 588 491.8 593 494 595C496.2 597 499.8 596.5 502 596C504.2 595.5 505.3 593.7 507 592C508.7 590.3 510 587.3 512 586C514 584.7 517.2 584.1 519 584.4C520.8 584.7 521.3 585.9 523 588C524.7 590.1 527.2 595.8 529 597C530.8 598.2 532.5 595.5 534 595C535.5 594.5 536.5 594.7 538 594C539.5 593.3 541.2 590.7 543 591C544.8 591.3 546.7 594.5 549 596C551.3 597.5 554.8 599.3 557 600C559.2 600.7 560.5 600.5 562 600C563.5 599.5 564.3 596.7 566 597C567.7 597.3 570 601.8 572 602C574 602.2 576.2 598.7 578 598.4C579.8 598.1 581.3 600.4 583 600.4C584.7 600.4 586.2 600.1 588 598.4C589.8 596.7 592.2 591.7 594 590C595.8 588.3 597.2 588.3 599 588C600.8 587.7 602.7 588.7 605 588.4C607.3 588.1 610.7 586.7 613 586C615.3 585.3 617 584.1 619 584C621 583.9 623.2 584.3 625 585.6C626.8 586.9 628.3 588.6 630 592C631.7 595.4 633.5 602 635 606C636.5 610 637.7 613.3 639 616C640.3 618.7 641.3 622.4 642.6 622.4C643.9 622.4 645.4 617.6 647 616C648.6 614.4 650.2 614.8 652 613C653.8 611.2 656 606.9 658 605C660 603.1 662.2 602.6 664 601.6C665.8 600.6 667.3 600.4 669 599C670.7 597.6 672 594.8 674 593C676 591.2 678.7 589.2 681 588.4C683.3 587.6 685.7 587.2 688 588C690.3 588.8 692.8 591.4 695 593C697.2 594.6 699 596.8 701 597.6C703 598.4 705 597.1 707 598C709 598.9 711.3 601.5 713 603C714.7 604.5 715.4 607.2 717.4 607C719.4 606.8 722.7 604.7 725 602C727.3 599.3 729 593.2 731 591C733 588.8 735 589.7 737 589C739 588.3 741.3 587.7 743 587C744.7 586.3 745.3 585.3 747 585C748.7 584.7 751.2 586.3 753 585C754.8 583.7 756.5 578.7 758 577C759.5 575.3 760.5 574.7 762 575C763.5 575.3 765 576.2 767 579C769 581.8 771.7 588.6 774 592C776.3 595.4 778.5 598.4 781 599.6C783.5 600.8 786.3 599.1 789 599C791.7 598.9 794.3 599.2 797 599C799.7 598.8 802.3 597.8 805 597.6C807.7 597.4 810.5 597.6 813 597.6C815.5 597.6 818 598.3 820 597.6C822 596.9 823.2 593.9 825 593.6C826.8 593.3 828.7 595.9 831 596C833.3 596.1 837.7 594.3 839 594" fill="none" stroke="#f3c634" stroke-width="2.5" stroke-linejoin="round"/>
<path d="M85.6 57.8 V671.6 H845.2" fill="none" stroke="#000" stroke-width="2.5"/>
<path d="M85.6 670.6 V683.2M139.9 670.6 V677.8M194.1 670.6 V683.2M248.4 670.6 V677.8M302.6 670.6 V683.2M356.9 670.6 V677.8M411.2 670.6 V683.2M465.4 670.6 V677.8M519.7 670.6 V683.2M573.9 670.6 V677.8M628.2 670.6 V683.2M682.5 670.6 V677.8M736.7 670.6 V683.2M791 670.6 V677.8M845.2 670.6 V683.2M72.6 149.8 H86.6M72.6 263.2 H86.6M72.6 376.6 H86.6M72.6 490.1 H86.6M72.6 603.5 H86.6M79.1 92.7 H86.6M79.1 206.5 H86.6M79.1 319.9 H86.6M79.1 433.3 H86.6M79.1 546.8 H86.6M79.1 660.2 H86.6" fill="none" stroke="#000" stroke-width="2.4"/>
<text transform="translate(85.6 712) scale(1 1.05)" class="tk">400</text>
<text transform="translate(194.1 712) scale(1 1.05)" class="tk">600</text>
<text transform="translate(302.6 712) scale(1 1.05)" class="tk">800</text>
<text transform="translate(411.2 712) scale(1 1.05)" class="tk">1000</text>
<text transform="translate(519.7 712) scale(1 1.05)" class="tk">1200</text>
<text transform="translate(628.2 712) scale(1 1.05)" class="tk">1400</text>
<text transform="translate(736.7 712) scale(1 1.05)" class="tk">1600</text>
<text transform="translate(845.2 712) scale(1 1.05)" class="tk">1800</text>
<text transform="translate(148 39.6) scale(1 1.07)" class="pk">520</text>
<text transform="translate(174.7 211.6) scale(1 1.07)" class="pk">566</text>
<text transform="translate(213 165.6) scale(1 1.07)" class="pk">635</text>
<text transform="translate(258.5 71) scale(1 1.07)" class="pk">714</text>
<text transform="translate(290.8 186.4) scale(1 1.07)" class="pk">776</text>
<text transform="translate(328.3 203) scale(1 1.07)" class="pk">846</text>
<text transform="translate(366.3 216.6) scale(1 1.07)" class="pk">924</text>
<text transform="translate(403.8 209) scale(1 1.07)" class="pk">980</text>
<text transform="translate(472 213.6) scale(1 1.07)" class="pk">1120</text>
<text transform="translate(520 213) scale(1 1.07)" class="pk">1190</text>
<text transform="translate(583.8 161.6) scale(1 1.07)" class="pk">1317</text>
<text transform="translate(650 173.6) scale(1 1.07)" class="pk">1439</text>
<text transform="translate(693.4 225) scale(1 1.07)" class="pk">1524</text>
<text transform="translate(721.6 194) scale(1 1.07)" class="pk">1577</text>
<text transform="translate(765.5 212) scale(1 1.07)" class="pk">1652</text>
<path d="M147 43.6 V69.6M174 215 V241M212 171 V197M257.4 75 V101M289.4 193 V218M327.4 210 V235M367 224 V249M403 214 V238.4M475.4 219 V244M514.4 218 V244M583.6 167 V192M650 179.6 V205M694 234 V260M722.4 201 V226M765 218 V244" stroke="#000" stroke-width="1.4" fill="none"/>
<path d="M142.6 68.6L151.4 68.6L147 84.6ZM169.6 240L178.4 240L174 256ZM207.6 196L216.4 196L212 212ZM253 100L261.8 100L257.4 116ZM285 217L293.8 217L289.4 233ZM323 234L331.8 234L327.4 250ZM362.6 248L371.4 248L367 264ZM398.6 237.4L407.4 237.4L403 253.4ZM471 243L479.8 243L475.4 259ZM510 243L518.8 243L514.4 259ZM579.2 191L588 191L583.6 207ZM645.6 204L654.4 204L650 220ZM689.6 259L698.4 259L694 275ZM718 225L726.8 225L722.4 241ZM760.6 243L769.4 243L765 259Z" fill="#000"/>
<path d="M1133.3 277.8C1134.4 276.9 1138.2 273.3 1139.7 272.6C1141.2 271.9 1141.5 272.5 1142.6 273.8C1143.7 275.1 1144.8 276.8 1146.1 280.2C1147.4 283.6 1149.3 289.7 1150.7 294.1C1152.1 298.5 1153.2 303.9 1154.2 306.8C1155.2 309.7 1155.6 310.7 1156.5 311.5C1157.4 312.3 1158.5 312.1 1159.4 311.5C1160.3 310.9 1160.9 310.6 1161.7 308C1162.5 305.4 1163.6 300.8 1164.5 296C1165.4 291.2 1166.2 284.3 1167 279C1167.8 273.7 1168.3 268.5 1169 264C1169.7 259.5 1170.2 257.4 1171 252C1171.8 246.6 1172.3 235.2 1173.6 231.6C1174.9 228 1177.6 231.8 1179 230.7C1180.4 229.6 1180.9 226.7 1181.8 225.3C1182.7 224 1183.6 225 1184.5 222.6C1185.4 220.2 1186.5 216.2 1187.2 210.8C1188 205.4 1188.5 200.1 1189 190C1189.5 179.9 1190 163.3 1190.5 150C1191 136.7 1191.7 120 1192.2 110C1192.7 100 1193.2 90 1193.7 90C1194.2 90 1194.7 100 1195.2 110C1195.7 120 1196.1 135.8 1196.5 150C1196.9 164.2 1197.2 182.5 1197.6 195C1198 207.5 1198.4 214.5 1198.8 225C1199.2 235.5 1199.6 247.2 1200.2 258C1200.8 268.8 1201.9 281.8 1202.6 290C1203.3 298.2 1203.9 303.2 1204.6 307C1205.2 310.8 1205.7 313.5 1206.5 313C1207.3 312.5 1208.2 308.9 1209.3 304C1210.4 299.1 1212 289.1 1213 283.4C1214 277.7 1214.2 272.4 1215.2 270C1216.2 267.6 1217.8 270.2 1218.9 268.9C1220 267.5 1220.9 262.4 1221.9 261.9C1222.9 261.3 1224 263.5 1224.8 265.6C1225.6 267.7 1226.1 270.6 1227 274.5C1227.9 278.4 1229 285.1 1230 289.3C1231 293.5 1231.8 296.5 1233 299.7C1234.2 302.9 1235.5 307.6 1237 308.6C1238.5 309.6 1240.4 310 1242.2 305.6C1244 301.2 1246.4 293.9 1248.1 282.1C1249.8 270.4 1251 244.9 1252.3 235.1C1253.6 225.3 1254.3 226.2 1255.7 223.4C1257.1 220.6 1259.2 216.5 1260.7 218.4C1262.2 220.3 1263.7 230.1 1264.9 235.1C1266.2 240.1 1267 242.2 1268.2 248.6C1269.5 255 1270.9 265.9 1272.4 273.7C1274 281.5 1276 290.2 1277.5 295.5C1279 300.8 1280.3 304.8 1281.7 305.6C1283.1 306.5 1284.4 303.7 1285.9 300.6C1287.4 297.5 1289.2 294.4 1290.9 287.1C1292.6 279.8 1294.7 267.2 1295.9 256.9C1297.2 246.6 1297.5 237.9 1298.4 225.1C1299.3 212.3 1300.2 196.3 1301.2 180C1302.2 163.7 1303.3 127 1304.5 127C1305.7 127 1307.2 165.3 1308.2 180C1309.2 194.7 1309.8 203.6 1310.8 215C1311.8 226.4 1313.2 237.4 1314.4 248.6C1315.6 259.8 1316.3 273.4 1317.7 282.1C1319.1 290.8 1321.4 299.5 1322.8 300.6C1324.2 301.7 1325 292.4 1326.1 288.8C1327.2 285.2 1328.4 284.1 1329.5 278.8C1330.6 273.5 1331.7 262.9 1332.8 256.9C1333.9 250.9 1335.1 243.2 1336.2 242.7C1337.3 242.1 1338.5 247.6 1339.6 253.6C1340.7 259.6 1341.5 270.4 1342.9 278.8C1344.3 287.2 1346.2 298.4 1347.9 303.9C1349.6 309.3 1351 311.2 1353 311.5C1355 311.8 1357.8 309.9 1359.7 305.6C1361.7 301.3 1363 292.5 1364.7 285.5C1366.4 278.5 1368.1 268.1 1369.8 263.7C1371.5 259.3 1373.1 258.7 1374.8 259C1376.5 259.3 1378.4 262 1379.8 265.3C1381.2 268.6 1381.8 273.8 1383.2 278.8C1384.6 283.8 1386.5 290.5 1388.2 295.5C1389.9 300.5 1391.8 308.1 1393.2 309C1394.6 309.9 1394.6 303.7 1396.6 300.6C1398.6 297.5 1402.6 295.1 1405 290.5C1407.4 285.9 1409 276 1410.9 272.9C1412.9 269.8 1414.3 270.2 1416.7 272C1419.1 273.8 1422.8 282.7 1425.1 283.8C1427.3 284.9 1428 281 1430.2 278.8C1432.4 276.6 1435.7 273.8 1438.5 270.4C1441.3 267 1444.5 259.9 1446.9 258.6C1449.3 257.3 1451.4 260.3 1452.8 262.8C1454.2 265.3 1454.3 269.1 1455.3 273.7C1456.3 278.3 1457.3 284.6 1458.7 290.5C1460.1 296.4 1462.7 304.7 1463.7 309C1464.7 313.3 1462.9 318.8 1464.6 316.5C1466.3 314.2 1471.1 300.4 1473.8 295.5C1476.5 290.6 1478.8 289.9 1480.5 287.1C1482.2 284.3 1482.5 280.5 1483.8 278.8C1485 277.1 1486.6 278.2 1488 277.1C1489.4 276 1490.4 275.1 1492.2 272C1494 268.9 1496.7 260.3 1498.9 258.6C1501.2 256.9 1503.5 258.1 1505.7 262C1508 265.9 1510.7 279.6 1512.4 282.1C1514.1 284.6 1513.9 280.7 1515.7 277.1C1517.5 273.5 1521.1 261.2 1523.3 260.3C1525.5 259.4 1527.7 267 1529.1 272C1530.5 277 1530.8 284.3 1531.7 290.5C1532.6 296.7 1533 305.1 1534.2 309C1535.5 312.9 1537.5 314 1539.2 314C1540.9 314 1542.5 313.8 1544.2 309C1545.9 304.2 1547.6 291.9 1549.3 285.5C1551 279.1 1552.1 274.1 1554.3 270.4C1556.5 266.7 1560.5 263.6 1562.7 263.3C1564.9 263 1566 264.2 1567.7 268.7C1569.4 273.2 1571.7 284.9 1572.8 290.5C1573.9 296.1 1573.6 300.4 1574.4 302.2C1575.2 304 1576.7 300.8 1577.8 301.4C1578.9 302 1580.1 306.6 1581.2 305.6C1582.3 304.6 1582.8 298.9 1584.5 295.5C1586.2 292.1 1589 287.4 1591.2 285.5C1593.4 283.6 1595.9 283.6 1597.9 284.1C1599.9 284.7 1601.3 286.8 1603 288.8C1604.7 290.9 1606.6 295.8 1608 296.4C1609.4 297 1610.3 294 1611.4 292.2C1612.5 290.4 1613.3 291.6 1614.7 285.5C1616.1 279.4 1618.1 262.9 1619.8 255.3C1621.5 247.8 1623.1 246.3 1624.8 240.2C1626.5 234 1628.5 221.5 1629.8 218.4C1631 215.3 1631.3 218.1 1632.3 221.7C1633.3 225.3 1634.6 231.5 1635.7 240.2C1636.8 248.9 1637.9 264.5 1639 273.7C1640.1 282.9 1641.1 290.2 1642.4 295.5C1643.7 300.8 1645.1 305.3 1646.6 305.6C1648.1 305.9 1649.6 298.6 1651.6 297.2C1653.5 295.8 1656 297.6 1658.3 297.2C1660.5 296.8 1662.8 293.9 1665.1 294.7C1667.3 295.5 1669.8 300.2 1671.8 302.2C1673.8 304.1 1675.1 307.5 1676.8 306.4C1678.5 305.3 1680.1 302.4 1681.8 295.5C1683.5 288.6 1685.2 276.2 1686.9 265.3C1688.6 254.4 1690.1 236.9 1691.9 230.1C1693.7 223.2 1695.8 223.1 1697.8 224.2C1699.8 225.3 1701.8 231.4 1703.6 236.8C1705.4 242.2 1707.3 248.8 1708.7 256.9C1710.1 265 1710.6 276.8 1712 285.5C1713.4 294.2 1715.9 303.4 1717.1 309C1718.2 314.6 1717.9 319 1718.9 319C1719.9 319 1721.4 312.4 1723.1 309C1724.8 305.6 1726.8 302.8 1728.9 298.9C1731 295 1733.7 288.7 1735.7 285.5C1737.7 282.3 1739 280.3 1740.7 279.6C1742.4 278.9 1744.3 281 1745.7 281.3C1747.1 281.6 1747.7 280.3 1749.1 281.3C1750.5 282.3 1752.4 288.4 1754.1 287.1C1755.8 285.8 1757.6 278.7 1759.1 273.7C1760.6 268.7 1761.6 261.9 1763.3 256.9C1765 251.9 1767.4 244.9 1769.2 243.5C1771 242.1 1772.5 245 1774.2 248.6C1775.9 252.2 1777.9 260.6 1779.3 265.3C1780.7 270.1 1781.5 271 1782.6 277.1C1783.7 283.2 1784.6 297.7 1786 302.2C1787.4 306.7 1789 302.8 1791 303.9C1793 305 1795.7 311.2 1797.7 309C1799.7 306.8 1801.1 296.7 1802.8 290.5C1804.5 284.3 1806.4 275.7 1807.8 272C1809.2 268.3 1809.8 268.9 1811.2 268.4C1812.6 267.8 1814.5 267 1816.2 268.7C1817.9 270.4 1820 274.3 1821.2 278.8C1822.5 283.3 1822.3 291.9 1823.7 295.5C1825.1 299.1 1828 298.1 1829.6 300.6C1831.1 303.1 1831.9 308.1 1833 310.6C1834.1 313.1 1835.2 316.2 1836.3 315.7C1837.4 315.1 1838.3 308.9 1839.7 307.3C1841.1 305.8 1843 307 1844.7 306.4C1846.4 305.8 1848.1 303.6 1849.8 303.9C1851.5 304.2 1853.1 306.7 1854.8 308.1C1856.5 309.5 1857.8 311.6 1859.8 312.3C1861.8 313 1864.5 313.7 1866.5 312.3C1868.5 310.9 1869.6 306.4 1871.6 303.9C1873.6 301.4 1876.2 299 1878.3 297.2C1880.4 295.4 1882 293.6 1884.1 293C1886.2 292.4 1889.8 293.8 1890.9 293.9L1890.9 309C1889.4 308.6 1884.3 305.8 1881.6 306.4C1878.9 306.9 1876.9 310.2 1874.9 312.3C1873 314.4 1871.6 317 1869.9 319C1868.2 321 1867.1 323.8 1864.9 324.1C1862.7 324.4 1859 321.4 1856.5 320.7C1854 320 1852 319.6 1849.8 319.9C1847.5 320.2 1845.5 321.7 1843 322.4C1840.5 323.1 1837.2 325.2 1834.7 324.1C1832.2 323 1830 317.7 1827.9 315.7C1825.8 313.7 1823.9 315.1 1822.1 312.3C1820.3 309.5 1818.7 301.8 1817 298.9C1815.3 296 1814.1 293.9 1812 294.7C1809.9 295.5 1806.6 300.1 1804.4 303.9C1802.2 307.7 1800.5 313.9 1798.6 317.3C1796.6 320.7 1794.7 323.7 1792.7 324.1C1790.7 324.5 1788.5 321.6 1786.8 319.9C1785.1 318.2 1784 315.7 1782.6 314C1781.2 312.3 1780.1 310.9 1778.4 309.8C1776.7 308.7 1774.7 306.3 1772.6 307.3C1770.5 308.3 1768.4 313.2 1765.9 315.7C1763.4 318.2 1759.9 320.2 1757.5 322.4C1755.1 324.6 1753.6 329.1 1751.6 329.1C1749.6 329.1 1747.5 324.9 1745.7 322.4C1743.9 319.9 1742.4 315.3 1740.7 314C1739 312.7 1737.9 313.4 1735.7 314.8C1733.5 316.2 1730 320.6 1727.3 322.4C1724.6 324.2 1721.4 326 1719.7 325.7C1718 325.4 1718.6 323.5 1717.1 320.7C1715.5 317.9 1712.7 313.5 1710.4 309C1708.2 304.5 1705.7 297.3 1703.6 293.9C1701.5 290.5 1699.8 288.2 1697.8 288.8C1695.8 289.4 1693.7 292.7 1691.9 297.2C1690.1 301.7 1688.6 311.2 1686.9 315.7C1685.2 320.2 1683.8 323.3 1681.8 324.1C1679.8 324.9 1677.3 321.8 1675.1 320.7C1672.9 319.6 1670.6 318.1 1668.4 317.3C1666.2 316.5 1663.8 316 1661.7 315.7C1659.6 315.4 1657.8 314 1655.8 315.7C1653.8 317.4 1652.1 324.6 1650 325.7C1647.9 326.8 1644.9 324.1 1643.2 322.4C1641.5 320.7 1641.3 319.1 1639.9 315.7C1638.5 312.3 1636.4 305.3 1634.9 302.2C1633.4 299.1 1632.4 296.6 1630.7 297.2C1629 297.8 1626.9 302.5 1624.8 305.6C1622.7 308.7 1620.3 312.1 1618.1 315.7C1615.9 319.3 1613.6 325.2 1611.4 327.4C1609.2 329.6 1606.7 329.9 1604.7 329.1C1602.7 328.3 1601.6 324.8 1599.6 322.4C1597.6 320 1595.1 315.4 1592.9 314.8C1590.7 314.2 1588.4 318.6 1586.2 319C1584 319.4 1581.5 317 1579.5 317.3C1577.5 317.6 1576.4 321.5 1574.4 320.7C1572.4 319.9 1569.4 315.9 1567.7 312.3C1566 308.7 1565.5 301.3 1564.4 298.9C1563.3 296.5 1562.7 297 1561 298.1C1559.3 299.2 1556.5 302.1 1554.3 305.6C1552.1 309.1 1549.5 315.4 1547.6 319C1545.6 322.6 1544.5 326.8 1542.6 327.4C1540.6 328 1537.9 325.5 1535.9 322.4C1533.9 319.3 1532.5 312.5 1530.8 309C1529.1 305.5 1527.3 303.4 1525.8 301.4C1524.3 299.4 1523.1 296.5 1521.6 297.2C1520.1 297.9 1518.4 302.5 1516.6 305.6C1514.8 308.7 1512.8 311.8 1510.7 315.7C1508.6 319.6 1506 325.5 1504 329.1C1502 332.7 1500.3 337.5 1498.6 337.5C1496.9 337.5 1495.8 333.4 1493.9 329.1C1492 324.8 1489.2 314 1487.2 311.5C1485.2 309 1484.4 312.8 1482.2 314C1480 315.2 1476.6 317.2 1473.8 319C1471 320.8 1467.9 324.3 1465.4 324.9C1462.9 325.5 1460.7 327.6 1458.7 322.4C1456.7 317.2 1455.3 298.4 1453.6 293.9C1451.9 289.4 1450.3 294.4 1448.6 295.5C1446.9 296.6 1445.3 298.4 1443.6 300.6C1441.9 302.9 1440.5 306.5 1438.5 309C1436.5 311.5 1434 314.2 1431.8 315.7C1429.6 317.2 1427 318.8 1425.1 318.2C1423.1 317.6 1422 313.8 1420.1 312.3C1418.1 310.8 1415.6 308.7 1413.4 309C1411.2 309.3 1408.9 311.8 1406.7 314C1404.5 316.2 1402.2 320.7 1400 322.4C1397.8 324.1 1395.5 324.1 1393.2 324.1C1391 324.1 1388.5 323.2 1386.5 322.4C1384.5 321.5 1383.2 321.5 1381.5 319C1379.8 316.5 1378.2 309.5 1376.5 307.3C1374.8 305.1 1373.4 305.3 1371.4 305.6C1369.4 305.9 1366.9 306.8 1364.7 309C1362.5 311.2 1360.2 316.1 1358 319C1355.8 321.9 1353.2 325.8 1351.3 326.6C1349.3 327.5 1348 325.1 1346.3 324.1C1344.6 323.1 1342.8 319.3 1341.2 320.7C1339.7 322.1 1338.7 332.7 1337 332.4C1335.3 332.1 1333.3 321.2 1331.2 319C1329.1 316.8 1326.7 318.4 1324.4 319C1322.2 319.6 1319.7 321.8 1317.7 322.4C1315.8 323 1314.4 325.5 1312.7 322.4C1311 319.3 1309.1 308.1 1307.7 303.9C1306.3 299.7 1305.7 298 1304.3 297.2C1302.9 296.4 1301.2 296.9 1299.3 298.9C1297.3 300.9 1294.8 305.6 1292.6 309C1290.4 312.4 1287.9 315.6 1285.9 319C1283.9 322.4 1282.5 328.5 1280.8 329.1C1279.1 329.7 1277.2 325.8 1275.8 322.4C1274.4 319 1273.9 314.9 1272.4 309C1270.9 303.1 1268.3 292.7 1266.6 287.1C1264.9 281.5 1263.8 278 1262.4 275.4C1261 272.8 1259.6 271.7 1258.2 271.7C1256.8 271.7 1255.5 273.1 1254 275.4C1252.5 277.7 1250.7 277.4 1248.9 285.5C1247.1 293.6 1245.1 316.3 1243.1 324.1C1241.1 331.9 1238.7 332 1237 332.4C1235.3 332.8 1234.4 328.6 1233 326.4C1231.6 324.2 1230 321.7 1228.5 319C1227 316.3 1225.3 311.7 1224.1 310C1222.9 308.3 1222.2 307.8 1221.1 308.6C1220 309.4 1218.5 312.9 1217.4 314.6C1216.3 316.3 1215.3 316 1214.4 319C1213.5 322 1213.1 329.6 1212.2 332.4C1211.3 335.2 1210.8 337.7 1209.3 336C1207.8 334.3 1204.9 328 1203.3 322C1201.7 316 1200.4 311.2 1199.5 300C1198.6 288.8 1198.5 269.2 1198 255C1197.5 240.8 1197.1 226.7 1196.5 215C1195.9 203.3 1195.2 191.2 1194.5 185C1193.8 178.8 1193.2 176.3 1192.5 178C1191.8 179.7 1191.1 188.3 1190.5 195C1189.9 201.7 1189.5 209.7 1189 218C1188.5 226.3 1187.8 238.1 1187.2 245C1186.6 251.9 1186.4 255 1185.4 259.5C1184.4 264 1182.3 267.8 1181 272C1179.7 276.2 1178.4 281.1 1177.4 284.8C1176.4 288.5 1175.9 290.2 1175.1 294.1C1174.3 298 1173.5 303.4 1172.8 308C1172.1 312.6 1171.8 318.2 1171 321.9C1170.2 325.6 1169.3 327.9 1168.1 330C1166.8 332.1 1165.2 334.9 1163.5 334.7C1161.8 334.5 1159.6 331.2 1157.7 328.9C1155.8 326.6 1153.8 323.5 1151.9 320.8C1150 318.1 1147.8 314.9 1146.1 312.6C1144.4 310.3 1143.5 307.4 1142 306.8C1140.5 306.2 1138.2 308.6 1136.8 309.2C1135.3 309.8 1133.9 310.1 1133.3 310.3Z" fill="#c0c0c0"/>
<path d="M1133.7 487C1134.2 486 1135.5 482.6 1137 481.2C1138.5 479.8 1141.4 477.9 1142.9 478.3C1144.5 478.7 1145 478.9 1146.3 483.7C1147.6 488.5 1149 499.4 1150.5 507.2C1152 515 1154.1 525.4 1155.5 530.7C1156.9 536 1157.1 539.1 1158.8 539.1C1160.5 539.1 1163.6 536.6 1165.6 530.7C1167.6 524.8 1169.2 513.6 1170.6 503.8C1172 494 1172.8 481.4 1173.9 471.9C1175 462.4 1176.3 453.1 1177.3 446.8C1178.3 440.5 1178.5 436.2 1179.8 434.2C1181.1 432.2 1183.5 440.7 1184.9 435C1186.3 429.3 1187 412.5 1188 400C1189 387.5 1190.2 373 1191 360C1191.8 347 1192.3 330 1193 322C1193.7 314 1194.4 309 1195 312C1195.6 315 1196.1 328.7 1196.4 340C1196.7 351.3 1196.7 366.7 1197 380C1197.3 393.3 1197.6 406.7 1198 420C1198.4 433.3 1198.9 447.5 1199.5 460C1200.1 472.5 1200.7 484.2 1201.5 495C1202.3 505.8 1203.5 517.9 1204.5 525C1205.5 532.1 1206.7 537.6 1207.5 537.4C1208.3 537.2 1208.1 530.1 1209.2 524C1210.3 517.9 1212.5 508.6 1214.2 500.5C1215.9 492.4 1217.8 480.8 1219.2 475.3C1220.6 469.9 1220.6 468.5 1222.6 467.8C1224.6 467.1 1229 466.8 1231 471.1C1233 475.4 1233 486.7 1234.3 493.8C1235.5 500.9 1237.4 509.8 1238.5 513.9C1239.6 517.9 1240.2 518.9 1241.1 518.1C1241.9 517.3 1242.5 518 1243.6 508.9C1244.7 499.8 1246.6 478.4 1247.8 463.6C1249 448.8 1250 432.3 1251 420C1252 407.7 1252.8 398.6 1254 390C1255.2 381.4 1256.8 369.4 1258 368.4C1259.2 367.4 1260 375.4 1261 384C1262 392.6 1263.2 410.7 1264 420C1264.8 429.3 1264.8 431.7 1265.5 440C1266.2 448.3 1266.9 460 1268 470C1269.1 480 1270.9 492.1 1272 500C1273.1 507.9 1273.3 512.4 1274.6 517.2C1275.9 522 1278.2 528.7 1279.7 529C1281.2 529.3 1282.1 523.4 1283.8 518.9C1285.5 514.4 1287.9 509.7 1289.7 502.1C1291.5 494.6 1293.3 482 1294.8 473.6C1296.3 465.2 1297.7 456.7 1298.9 451.8C1300.2 446.9 1301.2 443.7 1302.3 444.3C1303.4 444.9 1304.7 449.2 1305.7 455.2C1306.7 461.2 1307.1 471.1 1308.2 480.3C1309.3 489.5 1311 502.4 1312.4 510.5C1313.8 518.6 1315.1 527 1316.6 529C1318.1 531 1319.9 526.2 1321.6 522.3C1323.3 518.4 1325.2 510.5 1326.6 505.5C1328 500.5 1328.3 496 1330 492.1C1331.7 488.2 1334.9 482.9 1336.7 482C1338.5 481.1 1339.5 481.7 1340.9 487C1342.3 492.3 1343.6 507.7 1345.1 513.9C1346.6 520.1 1348.3 521.4 1350.1 524C1351.9 526.6 1354 531.5 1356 529.8C1358 528.1 1360.1 519.9 1361.9 513.9C1363.7 507.9 1365.5 499.1 1366.9 493.8C1368.3 488.5 1369.2 484.4 1370.3 482C1371.4 479.6 1372.3 478.1 1373.6 479.5C1374.8 480.9 1376.4 485.5 1377.8 490.4C1379.2 495.3 1380.5 505.5 1382 508.9C1383.5 512.2 1385.3 508.8 1387 510.5C1388.7 512.2 1390.3 516.3 1392.1 518.9C1393.9 521.5 1396 525.1 1398 526C1400 526.9 1402 527.3 1404 524C1406 520.7 1407.9 511.3 1410 506C1412.1 500.7 1414.6 492.4 1416.4 492.4C1418.2 492.4 1419.6 502.6 1421 506C1422.4 509.4 1423.5 511.8 1425 513C1426.5 514.2 1428.2 512.8 1430 513C1431.8 513.2 1434.2 517.2 1436 514C1437.8 510.8 1439.3 501 1441 494C1442.7 487 1443.9 477 1446 472C1448.1 467 1451.6 462.7 1453.6 464C1455.6 465.3 1456.8 472.3 1458 480C1459.2 487.7 1460 502 1461 510C1462 518 1462.8 524.7 1464 528C1465.2 531.3 1466.3 532.3 1468 530C1469.7 527.7 1471.8 518 1474 514C1476.2 510 1478.9 509.2 1481 506C1483.1 502.8 1484.7 494.3 1486.4 495C1488.1 495.7 1489.1 506.8 1491 510C1492.9 513.2 1495.8 511.3 1498 514C1500.2 516.7 1502.3 524.7 1504 526C1505.7 527.3 1506.7 526.3 1508 522C1509.3 517.7 1510.7 506.7 1512 500C1513.3 493.3 1514.7 487.3 1516 482C1517.3 476.7 1518.7 471.1 1520 468C1521.3 464.9 1522.5 462.8 1524 463.5C1525.5 464.2 1527.7 466.6 1529 472C1530.3 477.4 1531 487.8 1532 496C1533 504.2 1533.7 517.3 1535 521C1536.3 524.7 1538.2 520.8 1540 518C1541.8 515.2 1544 510.3 1546 504C1548 497.7 1550.3 485.5 1552 480C1553.7 474.5 1554.3 473.7 1556 471C1557.7 468.3 1560.3 463.8 1562 464C1563.7 464.2 1564.3 466 1566 472C1567.7 478 1570.3 492 1572 500C1573.7 508 1574.5 516.3 1576 520C1577.5 523.7 1579.3 524 1581 522C1582.7 520 1584.2 512.7 1586 508C1587.8 503.3 1590.2 495.7 1592 494C1593.8 492.3 1595.3 499 1597 498C1598.7 497 1600.5 493.8 1602 488C1603.5 482.2 1604.8 467.1 1606 463C1607.2 458.9 1608 460.1 1609 463.6C1610 467.1 1611 475.9 1612 484C1613 492.1 1614 508.3 1615 512C1616 515.7 1616.5 510.7 1618 506C1619.5 501.3 1621.9 490.3 1624 484C1626.1 477.7 1628.4 468.7 1630.4 468C1632.4 467.3 1634.1 473.7 1636 480C1637.9 486.3 1640 499.7 1642 506C1644 512.3 1646 517.7 1648 518C1650 518.3 1652 513.3 1654 508C1656 502.7 1658.4 490 1660 486C1661.6 482 1662.1 481.7 1663.4 484C1664.7 486.3 1666.6 496 1668 500C1669.4 504 1670.3 504 1672 508C1673.7 512 1676.3 520.5 1678 524C1679.7 527.5 1680.7 531.3 1682 529C1683.3 526.7 1684.5 519.8 1686 510C1687.5 500.2 1689.3 479.6 1691 470C1692.7 460.4 1694.9 454.6 1696.4 452.4C1697.9 450.2 1698.6 455.6 1700 457C1701.4 458.4 1703.7 457.2 1705 461C1706.3 464.8 1707 470.8 1708 480C1709 489.2 1710 506.7 1711 516C1712 525.3 1712.7 532.2 1714 536C1715.3 539.8 1717.2 540.5 1718.9 539C1720.6 537.5 1722.2 531.1 1723.9 527.2C1725.6 523.3 1727.4 517.6 1728.9 515.5C1730.4 513.4 1731.8 516 1733.1 514.7C1734.4 513.5 1735.4 509 1736.5 508C1737.6 507 1739 509.1 1739.8 508.8C1740.6 508.5 1740.7 506.3 1741.5 506.3C1742.3 506.3 1743.9 508.2 1744.9 508.8C1745.9 509.4 1746.2 508.2 1747.4 509.6C1748.7 511 1751 516.8 1752.4 517.2C1753.8 517.6 1754.7 514.6 1755.8 512.1C1756.9 509.6 1757.8 505.2 1759.1 502.1C1760.3 499 1762.3 498.4 1763.3 493.7C1764.3 488.9 1764.4 478.5 1765 473.6C1765.6 468.7 1765.4 464.7 1766.7 464.3C1768 463.9 1771.1 469.2 1772.6 471C1774.1 472.8 1774.7 472.8 1775.9 475.2C1777.2 477.6 1778.7 482.5 1780.1 485.3C1781.5 488.1 1783 488.4 1784.3 492C1785.6 495.6 1786.5 501.8 1787.7 507.1C1789 512.4 1790.5 520.3 1791.8 523.9C1793 527.5 1794.1 528.6 1795.2 528.9C1796.3 529.2 1797.3 528.1 1798.6 525.6C1799.9 523.1 1801.3 519.7 1802.8 513.8C1804.3 507.9 1806.4 496.4 1807.8 490.3C1809.2 484.2 1810 478.6 1811.1 476.9C1812.2 475.2 1813.2 478.5 1814.5 480.3C1815.8 482.1 1817.3 484.7 1818.7 487.8C1820.1 490.9 1821.7 494.4 1822.9 498.7C1824.2 503 1825 509.9 1826.2 513.8C1827.5 517.7 1828.9 518.3 1830.4 522.2C1832 526.1 1834.1 536 1835.5 537.3C1836.9 538.6 1837.5 530.5 1838.8 529.8C1840 529.1 1841.2 533.2 1843 533.1C1844.8 533 1847.5 528.9 1849.7 528.9C1851.9 528.9 1854.7 531.8 1856.4 533.1C1858.1 534.4 1858.7 536.2 1859.8 536.5C1860.9 536.8 1862.1 534.4 1863.2 534.8C1864.3 535.2 1865.1 540 1866.5 539C1867.9 538 1869.5 532.2 1871.5 528.9C1873.5 525.5 1876.2 522.7 1878.3 518.9C1880.4 515.1 1882.4 508 1884.1 506.3C1885.8 504.6 1887.2 508.4 1888.3 508.8C1889.4 509.2 1890.4 508.8 1890.8 508.8L1890.8 539C1890.4 539.3 1889.4 541.1 1888.3 540.7C1887.2 540.3 1886 536.5 1884.1 536.5C1882.1 536.5 1878.7 538.9 1876.6 540.7C1874.5 542.5 1873.2 545.9 1871.5 547.4C1869.8 548.9 1868.5 549.6 1866.5 549.9C1864.5 550.2 1862 549.1 1859.8 549.1C1857.6 549.1 1855 550.2 1853.1 549.9C1851.1 549.6 1850.1 547.7 1848.1 547.4C1846.1 547.1 1843.5 547.7 1841.3 548.2C1839 548.8 1837.4 552 1834.6 550.7C1831.8 549.5 1827.1 544.1 1824.6 540.7C1822.1 537.4 1821.8 532.7 1819.5 530.6C1817.2 528.5 1813.6 526.4 1811.1 528.1C1808.6 529.8 1806.5 537.4 1804.4 540.7C1802.3 544.1 1800.7 546.8 1798.6 548.2C1796.5 549.6 1793.9 549.2 1791.8 549.1C1789.7 549 1787.5 549.4 1786 547.4C1784.5 545.4 1784 539.7 1782.6 537.3C1781.2 534.9 1779.4 531.7 1777.6 533.1C1775.8 534.5 1773.5 541.7 1771.7 545.7C1769.9 549.8 1768.5 555.9 1766.7 557.4C1764.9 558.9 1762.9 555.2 1760.8 554.9C1758.7 554.6 1756.9 556.8 1754.1 555.8C1751.3 554.8 1746.9 551.1 1744 549.1C1741.1 547.1 1739.2 543.7 1736.5 544C1733.8 544.3 1730.2 548.7 1728.1 550.7C1726 552.7 1725.2 555.5 1723.9 555.8C1722.6 556.1 1722 553.5 1720.5 552.4C1719 551.3 1716.4 550.8 1714.7 549.1C1713 547.4 1711.9 544.5 1710.5 542.3C1709.1 540 1707.7 539 1706.3 535.6C1704.9 532.2 1703.6 524 1702.1 522.2C1700.5 520.4 1698.7 522.7 1697 524.7C1695.3 526.7 1693.8 530.4 1692 534C1690.2 537.6 1687.9 543.7 1686.1 546.5C1684.3 549.3 1682.9 550.8 1681.1 550.7C1679.3 550.6 1676.7 547.7 1675.2 545.7C1673.7 543.8 1673.3 539.6 1671.9 539C1670.5 538.4 1668.6 540.2 1666.8 542.3C1665 544.4 1663 551 1661 551.6C1659 552.2 1656.9 545.9 1655.1 545.7C1653.3 545.6 1652 549.7 1650.1 550.7C1648.1 551.7 1645.1 552.7 1643.4 551.6C1641.7 550.5 1641.1 546.9 1640 544C1638.9 541.1 1638.6 537.5 1637 534C1635.4 530.5 1632.6 523.3 1630.4 523C1628.2 522.7 1626.1 529.2 1624 532C1621.9 534.8 1619.7 535.3 1618 540C1616.3 544.7 1615.5 552.7 1614 560C1612.5 567.3 1610.7 584 1609 584C1607.3 584 1605.8 567.3 1604 560C1602.2 552.7 1600.7 543.3 1598 540C1595.3 536.7 1590.8 537.6 1588 540C1585.2 542.4 1583.3 552.7 1581 554.4C1578.7 556.1 1576.2 552.7 1574 550C1571.8 547.3 1570 541.2 1568 538C1566 534.8 1564 532 1562 531C1560 530 1558.2 529.8 1556 532C1553.8 534.2 1551.2 539.3 1549 544C1546.8 548.7 1544.8 558.4 1543 560.4C1541.2 562.4 1539.5 558.7 1538 556C1536.5 553.3 1535.7 548.3 1534 544C1532.3 539.7 1529.7 533.3 1528 530C1526.3 526.7 1525.3 524.8 1524 524C1522.7 523.2 1521.7 522.7 1520 525C1518.3 527.3 1516 534 1514 538C1512 542 1510 546.8 1508 549C1506 551.2 1504.3 552 1502 551C1499.7 550 1496.7 545.3 1494 543C1491.3 540.7 1488.3 537.5 1486 537C1483.7 536.5 1482.3 538.2 1480 540C1477.7 541.8 1474.5 545.5 1472 548C1469.5 550.5 1466.8 556 1465 555C1463.2 554 1462.5 546.5 1461 542C1459.5 537.5 1457.8 531.4 1456 528C1454.2 524.6 1452 521.3 1450 521.6C1448 521.9 1446.3 526.6 1444 530C1441.7 533.4 1438.7 539.2 1436 542C1433.3 544.8 1430.3 546.7 1428 547C1425.7 547.3 1424 547 1422 544C1420 541 1418 530.3 1416 529C1414 527.7 1412.3 532.5 1410 536C1407.7 539.5 1404.7 547.2 1402 550C1399.3 552.8 1395.7 553.1 1394 553C1392.3 552.9 1393 550 1392.1 549.1C1391.2 548.2 1390.1 548.8 1388.7 547.4C1387.3 546 1385.4 543.2 1383.7 540.7C1382 538.2 1380.1 534.7 1378.6 532.3C1377 529.9 1376.1 526.8 1374.4 526.5C1372.7 526.2 1370.4 528.3 1368.6 530.7C1366.8 533.1 1365.5 537.6 1363.5 540.7C1361.5 543.8 1358.8 547.4 1356.8 549.1C1354.8 550.8 1353.5 551.3 1351.8 550.8C1350.1 550.2 1348.5 548.3 1346.8 545.8C1345.1 543.3 1343.4 538 1341.7 535.7C1340 533.5 1338.4 532.6 1336.7 532.3C1335 532 1333.4 532 1331.7 534C1330 536 1328.3 541.3 1326.6 544.1C1324.9 546.9 1323.3 549.4 1321.6 550.8C1319.9 552.2 1318.3 554.5 1316.6 552.5C1314.9 550.5 1313 544.4 1311.5 539.1C1310 533.8 1308.7 524.8 1307.3 520.6C1305.9 516.4 1304.3 514.7 1303.1 513.9C1301.8 513.1 1300.9 513.6 1299.8 515.6C1298.7 517.6 1297.8 522 1296.4 525.6C1295 529.2 1293.1 534.3 1291.4 537.4C1289.7 540.5 1287.9 541 1286.4 544.1C1284.9 547.2 1283.9 554.4 1282.2 555.8C1280.5 557.2 1277.8 555.6 1276.3 552.5C1274.8 549.4 1274.3 543 1272.9 537.4C1271.5 531.8 1269.3 523.6 1267.9 518.9C1266.5 514.1 1265.8 511.3 1264.6 508.9C1263.3 506.5 1261.8 503.3 1260.4 504.7C1259 506.1 1258 514 1256.2 517.2C1254.4 520.4 1251.1 521 1249.4 524C1247.7 527 1247.2 529 1246 535C1244.8 541 1243.4 553.8 1242 560C1240.6 566.2 1239.1 573.1 1237.6 572.4C1236 571.7 1234.4 560.5 1232.7 555.8C1231 551.1 1229.3 547.2 1227.6 544.1C1225.9 541 1224.5 538 1222.6 537.4C1220.6 536.8 1217.9 539 1215.9 540.7C1214 542.4 1212.2 544.2 1210.9 547.4C1209.6 550.6 1209.2 559.6 1208 560C1206.8 560.4 1205.2 555 1204 550C1202.8 545 1201.3 540 1200.5 530C1199.7 520 1199.6 505 1199 490C1198.4 475 1197.7 453 1197 440C1196.3 427 1195.8 415.7 1195 412C1194.2 408.3 1193.2 413.3 1192.5 418C1191.8 422.7 1191.1 430.4 1190.5 440C1189.9 449.6 1189.8 465.5 1189 475.3C1188.2 485.1 1187.1 492.6 1185.7 498.8C1184.3 505 1182.7 506.9 1180.7 512.2C1178.7 517.5 1175.6 524.6 1173.9 530.7C1172.2 536.9 1172.7 544.4 1170.6 549.1C1168.5 553.9 1163.9 558.9 1161.4 559.2C1158.9 559.5 1157.6 554.7 1155.5 550.8C1153.4 546.9 1151 540.7 1148.8 535.7C1146.6 530.7 1144.6 521.7 1142.1 520.6C1139.6 519.5 1135.1 527.6 1133.7 529Z" fill="#cceafc"/>
<path d="M1133.3 294.7C1133.9 294.3 1135.5 293.3 1137 292.5C1138.5 291.7 1140.1 288.6 1142 290C1143.9 291.4 1146.2 296.6 1148.4 301C1150.6 305.4 1153.3 312.5 1155.4 316.1C1157.5 319.8 1159.2 324.6 1160.9 322.9C1162.6 321.2 1164.2 312 1165.8 305.7C1167.4 299.4 1169.1 291 1170.4 284.8C1171.8 278.6 1172.8 272.9 1173.9 268.6C1175 264.4 1176.1 261.1 1176.8 259.3C1177.5 257.5 1177.2 259.2 1178.2 257.7C1179.2 256.2 1181.5 253.5 1182.7 250.5C1183.9 247.5 1184.7 244.2 1185.4 239.7C1186.2 235.2 1186.7 229.3 1187.2 223.5C1187.7 217.7 1188.1 212.2 1188.5 205C1188.9 197.8 1189.4 187.2 1189.8 180C1190.2 172.8 1190.6 166.5 1191 162C1191.4 157.5 1191.7 155.1 1192 153C1192.3 150.9 1192.7 149.7 1193 149.5C1193.3 149.3 1193.7 149.9 1194 152C1194.3 154.1 1194.7 157.3 1195 162C1195.3 166.7 1195.7 172.8 1196 180C1196.3 187.2 1196.5 196.7 1196.8 205C1197.1 213.3 1197.6 220.9 1198.1 230C1198.6 239.1 1199 249.8 1199.6 259.7C1200.2 269.6 1201 280.9 1201.8 289.3C1202.5 297.7 1203.3 304.9 1204.1 310C1204.8 315.1 1205.4 318.6 1206.3 319.8C1207.2 321.1 1208.3 319.4 1209.3 317.5C1210.3 315.6 1211.1 312.8 1212.2 308.6C1213.3 304.4 1214.7 295.5 1215.9 292.3C1217.1 289.1 1218.3 290 1219.6 289.3C1220.8 288.6 1222.3 287.6 1223.4 287.9C1224.5 288.1 1225.2 288.3 1226.3 290.8C1227.4 293.3 1228.8 299 1230 302.7C1231.2 306.4 1232.5 310 1233.7 313C1234.9 316 1235.4 319.8 1237 320.5C1238.6 321.2 1241.4 321.7 1243.1 317.3C1244.8 312.9 1245.9 301.7 1247.3 293.9C1248.7 286.1 1250.1 277.1 1251.5 270.4C1252.9 263.7 1254.2 257.8 1255.7 253.6C1257.2 249.4 1259 245.5 1260.4 245.5C1261.8 245.5 1262.7 248.9 1264 253.6C1265.3 258.3 1266.7 266.7 1268.2 273.7C1269.8 280.7 1271.8 289.6 1273.3 295.5C1274.8 301.4 1276.2 305.9 1277.5 309C1278.8 312.1 1279.4 313.7 1280.8 314C1282.2 314.3 1284.8 311.4 1285.9 310.6C1287 309.8 1286.4 312.6 1287.5 309C1288.6 305.4 1291 296.4 1292.6 288.8C1294.1 281.2 1295.5 271.8 1296.8 263.7C1298 255.6 1299 247.5 1300.1 240.2C1301.2 232.9 1302.8 224.6 1303.5 220C1304.2 215.4 1303.7 210.4 1304.4 212.4C1305.1 214.4 1306.6 224.4 1307.7 231.8C1308.8 239.2 1309.9 249.1 1311 256.9C1312.1 264.7 1313.1 271.5 1314.4 278.8C1315.7 286.1 1317.3 295.1 1318.6 300.6C1319.9 306.1 1320.9 311.7 1322.4 312C1323.9 312.3 1326.1 305.2 1327.8 302.2C1329.5 299.2 1331.4 295.8 1332.8 293.9C1334.2 291.9 1335.1 291.1 1336.2 290.5C1337.3 289.9 1338.5 288.5 1339.6 290.2C1340.7 291.9 1341.7 297.2 1342.9 300.6C1344.2 304 1345.4 307.8 1347.1 310.6C1348.8 313.4 1351.2 316.7 1353 317.3C1354.8 317.9 1356.3 316.5 1358 314C1359.7 311.5 1361.3 306.4 1363 302.2C1364.7 298 1366.3 292.1 1368.1 288.8C1369.9 285.5 1372.2 282.4 1373.9 282.1C1375.6 281.8 1376.5 284 1378.1 287.1C1379.6 290.2 1381.5 297 1383.2 300.6C1384.9 304.2 1386.5 306.6 1388.2 309C1389.9 311.4 1391.5 314.9 1393.2 315.3C1394.9 315.7 1396.6 313.1 1398.3 311.5C1400 309.9 1401.5 308.5 1403.3 305.6C1405.1 302.7 1407.2 296.4 1409.2 293.9C1411.2 291.4 1413.3 290.7 1415.1 290.8C1416.9 290.9 1418.4 292.9 1420.1 294.7C1421.8 296.5 1423 300.8 1425.1 301.4C1427.2 302 1430.7 299.4 1432.7 298.1C1434.7 296.9 1435.4 295.7 1436.9 293.9C1438.4 292.1 1440 289.7 1441.9 287.1C1443.9 284.5 1446.8 279.6 1448.6 278.4C1450.4 277.1 1451.4 277.9 1452.8 279.6C1454.2 281.3 1455.7 284.5 1457 288.8C1458.3 293.1 1458.9 300.5 1460.4 305.6C1461.9 310.7 1464.5 318 1466.2 319.4C1467.9 320.8 1468.9 316.3 1470.4 314C1472 311.7 1473.5 307.8 1475.5 305.6C1477.5 303.4 1480.2 302.3 1482.2 300.6C1484.2 298.9 1485.7 296 1487.2 295.5C1488.7 295 1489.7 297 1491.4 297.6C1493.1 298.2 1495.5 299.1 1497.3 298.9C1499.1 298.7 1500.6 297.1 1502.3 296.4C1504 295.7 1505.6 294.7 1507.3 294.7C1509 294.7 1510.7 297.7 1512.4 296.4C1514.1 295.1 1515.6 290 1517.4 287.1C1519.2 284.2 1521.5 279.1 1523.3 278.8C1525.1 278.5 1526.8 282.1 1528.3 285.5C1529.8 288.9 1531.2 294.7 1532.5 298.9C1533.8 303.1 1534.6 307.1 1535.9 310.6C1537.2 314.2 1538.9 319.6 1540.4 320.2C1541.9 320.8 1543.3 317.6 1545.1 314C1546.9 310.4 1549 303.8 1551 298.9C1553 294 1554.7 287.7 1556.8 284.6C1558.9 281.5 1561.7 279.4 1563.5 280.4C1565.3 281.4 1566.2 286.6 1567.7 290.5C1569.2 294.4 1571.4 300.7 1572.8 303.9C1574.2 307.1 1574.9 308.2 1576.1 309.8C1577.3 311.4 1578.9 313.5 1580 313.2C1581.1 312.9 1581.5 309.5 1582.8 308.1C1584.1 306.7 1586.1 306.1 1587.9 304.8C1589.7 303.5 1591.9 300.5 1593.7 300.2C1595.5 299.9 1597.1 302 1598.8 303.1C1600.5 304.2 1602.3 305.6 1603.8 306.9C1605.3 308.1 1606.5 310.5 1608 310.6C1609.5 310.7 1611.3 310.7 1613 307.3C1614.7 303.9 1616.1 296.1 1618.1 290.5C1620.1 284.9 1622.7 278.7 1624.8 273.7C1626.9 268.7 1629 261.7 1630.7 260.3C1632.4 258.9 1633.5 261.1 1634.9 265.3C1636.3 269.5 1637.6 278.8 1639 285.5C1640.4 292.2 1641.8 301 1643.2 305.6C1644.6 310.2 1646.1 311.5 1647.4 313.2C1648.7 314.9 1649.7 316.5 1650.8 315.7C1651.9 314.9 1652.4 309.7 1654.1 308.1C1655.8 306.6 1658.9 307 1660.9 306.4C1662.9 305.8 1664.2 304 1665.9 304.3C1667.6 304.6 1669.2 306.5 1670.9 308.1C1672.6 309.7 1674.3 313.6 1676 314C1677.7 314.4 1679.3 313.7 1681 310.6C1682.7 307.5 1684.3 302.2 1686 295.5C1687.7 288.8 1690.2 274.9 1691.1 270.4C1692 265.9 1690.3 271 1691.2 268.7C1692.1 266.4 1695.3 258.6 1696.2 256.6C1697.1 254.6 1695.9 256.4 1696.6 256.9C1697.3 257.4 1699.2 258.4 1700.4 259.5C1701.6 260.6 1702.9 262.7 1703.6 263.7C1704.3 264.7 1703.8 261.7 1704.6 265.3C1705.4 268.9 1708 282.1 1708.7 285.5C1709.4 288.9 1708.1 282.4 1708.8 285.5C1709.5 288.6 1712.2 300.8 1712.9 303.9C1713.6 307 1712.4 302.2 1713 303.9C1713.6 305.6 1715.7 311.8 1716.4 314C1717.1 316.2 1716.5 316.1 1717.1 317.3C1717.6 318.5 1718.2 321.1 1719.7 321C1721.2 320.9 1724.6 318.2 1726.4 316.5C1728.2 314.8 1729 313.1 1730.6 310.6C1732.1 308.1 1734 303.9 1735.7 301.4C1737.4 298.9 1739.3 295.6 1740.7 295.5C1742.1 295.4 1742.8 299.5 1744 300.6C1745.2 301.7 1746.8 301.3 1748.2 302.2C1749.6 303.1 1750.9 306.4 1752.4 306.1C1754 305.8 1755.7 303.8 1757.5 300.6C1759.3 297.4 1761.6 290.5 1763.3 287.1C1765 283.7 1766.1 282.2 1767.5 280.4C1768.9 278.6 1770.3 276.2 1771.7 276.2C1773.1 276.2 1774.5 278 1775.9 280.4C1777.3 282.8 1778.8 287.7 1780.1 290.5C1781.4 293.3 1782.5 294.4 1783.5 297.2C1784.5 300 1785 304.9 1786 307.3C1787 309.7 1788.1 310 1789.3 311.5C1790.5 313 1791.5 316.4 1793 316.5C1794.5 316.6 1797 314.7 1798.6 312.3C1800.2 309.9 1801.4 306.4 1802.8 302.2C1804.2 298 1805.3 290.4 1807 287.1C1808.7 283.8 1811 282.4 1812.8 282.4C1814.6 282.4 1816.4 284.6 1817.9 287.1C1819.5 289.6 1820.8 294.4 1822.1 297.2C1823.3 300 1824.2 302.2 1825.4 303.9C1826.7 305.6 1828.3 305.6 1829.6 307.3C1830.9 309 1832 312.1 1833 314C1834 315.9 1834.5 318.3 1835.5 318.7C1836.5 319.1 1837.5 317 1838.8 316.5C1840 316 1841.3 316.5 1843 315.7C1844.7 314.9 1846.9 311.6 1848.9 311.5C1850.9 311.4 1853 313.8 1854.8 314.8C1856.6 315.8 1858 316.8 1859.8 317.3C1861.6 317.8 1863.9 318.7 1865.7 317.7C1867.5 316.7 1869 313.5 1870.7 311.5C1872.4 309.5 1874.2 307.3 1875.8 305.6C1877.3 303.9 1878.3 302.2 1880 301.4C1881.7 300.6 1884.8 300.7 1885.8 300.6" fill="none" stroke="#404040" stroke-width="2.4" stroke-linejoin="round"/>
<path d="M1132 508.9C1132.7 508 1134.4 505.5 1136.2 503.8C1138 502.1 1140.8 497.1 1142.9 498.8C1145 500.5 1146.7 507.5 1148.8 513.9C1150.9 520.3 1153.4 530.8 1155.5 537.4C1157.6 544 1159.6 553.5 1161.4 553.8C1163.2 554.1 1164.9 543.8 1166.4 539.1C1167.9 534.4 1169.1 533.1 1170.6 525.6C1172.1 518.1 1174.1 502.2 1175.6 493.8C1177.1 485.4 1178.5 479.1 1179.8 475.3C1181.1 471.5 1182.2 473.1 1183.2 471.1C1184.2 469.2 1184.7 468.2 1185.7 463.6C1186.7 459 1188.1 452.3 1189 443.4C1189.9 434.5 1190.4 418.6 1191 410C1191.6 401.4 1192 396.1 1192.5 392C1193 387.9 1193.5 385.6 1194 385.6C1194.5 385.6 1195 387.9 1195.5 392C1196 396.1 1196.5 400.3 1197 410C1197.5 419.7 1197.9 438.3 1198.2 450C1198.5 461.7 1198.5 469.7 1199.1 480.3C1199.7 490.9 1200.8 504.1 1201.6 513.9C1202.4 523.7 1203.2 533.6 1204.1 539.1C1204.9 544.6 1205.6 547.5 1206.7 546.6C1207.8 545.8 1209.4 538.9 1210.9 534C1212.4 529.1 1213.8 522.2 1215.9 517.2C1218 512.2 1221.3 505.2 1223.4 503.8C1225.5 502.4 1227 506.4 1228.5 508.9C1230 511.4 1231.3 514.4 1232.7 518.9C1234.1 523.4 1235.7 531.9 1236.9 535.7C1238.2 539.5 1239.1 541.3 1240.2 541.6C1241.3 541.9 1242.5 543.4 1243.6 537.4C1244.7 531.4 1245.7 516.4 1246.9 505.5C1248.2 494.6 1249.5 481.7 1251.1 471.9C1252.6 462.1 1254.8 452 1256.2 446.8C1257.6 441.6 1258.2 440.9 1259.2 440.9C1260.2 440.9 1260.8 441.4 1262 446.8C1263.2 452.2 1264.8 463.8 1266.2 473.6C1267.6 483.4 1268.7 496.3 1270.4 505.5C1272.1 514.7 1274.6 523.3 1276.3 529C1278 534.7 1278.8 539.9 1280.8 539.9C1282.8 539.9 1286 534.2 1288 529C1290 523.8 1291.4 515.6 1293.1 508.9C1294.8 502.2 1296.5 493.3 1298.1 488.7C1299.7 484.1 1301.4 481.2 1302.8 481.2C1304.2 481.2 1305.3 484.1 1306.5 488.7C1307.7 493.3 1308.8 501.9 1309.9 508.9C1311 515.9 1312 525.5 1313.2 530.7C1314.5 535.9 1315.9 539.2 1317.4 539.9C1318.9 540.6 1320.7 537.8 1322.4 534.9C1324.1 532 1326 525.8 1327.5 522.3C1329 518.8 1330.2 516.1 1331.7 513.9C1333.2 511.7 1335.3 509.5 1336.7 508.9C1338.1 508.3 1338.7 507.7 1340.1 510.5C1341.5 513.3 1343.3 521 1345.1 525.6C1346.9 530.2 1349 535.8 1351 538.2C1353 540.6 1355 541.1 1356.8 539.9C1358.6 538.6 1360.2 534.5 1361.9 530.7C1363.6 526.9 1365.5 520.8 1366.9 517.2C1368.3 513.6 1369.1 511.3 1370.3 508.9C1371.5 506.4 1372.5 501.4 1373.9 502.5C1375.3 503.6 1377.1 511.9 1378.6 515.6C1380.1 519.3 1381.4 522.6 1382.8 524.8C1384.2 527 1385.5 526.9 1387 529C1388.5 531.1 1391.1 535.9 1392.1 537.4C1393.1 538.9 1391.7 537.8 1393 538C1394.3 538.2 1397.8 539.4 1400 538.4C1402.2 537.4 1404.2 535.1 1406 532C1407.8 528.9 1409.3 522.9 1411 520C1412.7 517.1 1414.3 513.4 1416 514.4C1417.7 515.4 1419.5 523.4 1421 526C1422.5 528.6 1423.2 529.4 1425 530C1426.8 530.6 1430.2 529.7 1432 529.4C1433.8 529.1 1434.3 530.6 1436 528C1437.7 525.4 1440.2 519 1442 514C1443.8 509 1445.3 501.2 1447 498C1448.7 494.8 1450.5 494.3 1452 495C1453.5 495.7 1454.5 497.5 1456 502C1457.5 506.5 1459.3 514.7 1461 522C1462.7 529.3 1464.6 543.3 1466.4 545.6C1468.2 547.9 1470.1 539.3 1472 536C1473.9 532.7 1475.7 529.1 1478 526C1480.3 522.9 1483.7 517.9 1486 517.6C1488.3 517.3 1489.7 521.6 1492 524C1494.3 526.4 1497.4 529.5 1500 532C1502.6 534.5 1505.6 539.2 1507.6 539C1509.6 538.8 1510.3 536.3 1512 531C1513.7 525.7 1516 513 1518 507C1520 501 1522 495.5 1524 495C1526 494.5 1528.3 499.8 1530 504C1531.7 508.2 1532.8 515 1534 520C1535.2 525 1535.9 530.9 1537 534C1538.1 537.1 1538.6 540.1 1540.4 538.4C1542.2 536.7 1545.4 530.1 1548 524C1550.6 517.9 1554 506 1556 502C1558 498 1558.7 500.7 1560 500C1561.3 499.3 1562.1 496 1563.6 498C1565.1 500 1567.1 506.3 1569 512C1570.9 517.7 1573 527.4 1575 532C1577 536.6 1579.2 540.6 1581 539.6C1582.8 538.6 1584.2 529.6 1586 526C1587.8 522.4 1590.3 519 1592 518C1593.7 517 1594 519.6 1596 520C1598 520.4 1601.7 519.4 1604 520.4C1606.3 521.4 1608.3 524.2 1610 526C1611.7 527.8 1612.2 532.7 1614 531C1615.8 529.3 1619 520.5 1621 516C1623 511.5 1624.4 507.1 1626 504C1627.6 500.9 1628.7 496.9 1630.4 497.6C1632.1 498.3 1633.8 502.5 1636 508C1638.2 513.5 1641.5 526.3 1643.4 530.6C1645.3 534.9 1646.1 534.6 1647.6 534C1649.1 533.4 1650.8 529.3 1652.6 527.2C1654.4 525.1 1656.7 523.1 1658.5 521.4C1660.3 519.7 1662 516.9 1663.5 516.8C1665 516.6 1666.2 519 1667.7 520.5C1669.2 522 1671.3 523.6 1672.7 525.6C1674.1 527.6 1674.7 529.9 1676.1 532.3C1677.5 534.7 1679.4 540.6 1681.1 539.8C1682.8 538.9 1684.6 532.1 1686.1 527.2C1687.6 522.3 1689 515.5 1690.3 510.5C1691.6 505.5 1692.6 500.6 1693.7 497C1694.8 493.4 1695.2 489.5 1697 488.7C1698.8 487.9 1702.6 487.8 1704.6 492.3C1706.6 496.8 1707.4 508.3 1708.8 515.5C1710.2 522.7 1711.2 530.6 1713 535.6C1714.8 540.6 1717.6 544.9 1719.7 545.7C1721.8 546.6 1723.8 542.9 1725.6 540.7C1727.4 538.5 1728.8 534.7 1730.6 532.3C1732.4 529.9 1734.7 527.5 1736.5 526.4C1738.3 525.3 1740 525.2 1741.5 525.6C1743 526 1743.9 527.4 1745.7 528.9C1747.5 530.4 1750.5 534.6 1752.4 534.8C1754.4 534.9 1755.6 531.6 1757.4 529.8C1759.2 528 1761.6 527.1 1763.3 523.9C1765 520.7 1765.7 513.5 1767.5 510.5C1769.3 507.5 1772.4 506.1 1774.2 505.8C1776 505.5 1777 507.1 1778.4 508.8C1779.8 510.6 1781.3 513.5 1782.6 516.3C1783.9 519.1 1784.2 521.8 1786 525.6C1787.8 529.4 1791.3 537 1793.5 539C1795.7 541 1797.7 539.3 1799.4 537.3C1801.1 535.3 1801.9 532.5 1803.6 527.2C1805.3 521.9 1808 509.3 1809.5 505.4C1811 501.5 1811.1 502.9 1812.8 503.8C1814.5 504.7 1817.5 507.1 1819.5 510.5C1821.5 513.9 1822.8 519.7 1824.6 523.9C1826.4 528.1 1828.6 532.4 1830.4 535.6C1832.2 538.8 1834 542.4 1835.5 543.2C1837 544 1838.3 540.6 1839.7 540.3C1841.1 540 1842.1 542 1843.9 541.5C1845.7 541 1848.8 537.4 1850.6 537.3C1852.4 537.2 1852.7 539.9 1854.8 540.7C1856.9 541.5 1861.2 541.8 1863.2 542.3C1865.2 542.8 1865.1 544.5 1866.5 544C1867.9 543.5 1870.1 540.8 1871.5 539C1872.9 537.2 1873.5 535.1 1874.9 533.1C1876.3 531.1 1878.1 529 1879.9 527.2C1881.7 525.4 1884.8 523 1885.8 522.2" fill="none" stroke="#16a0f0" stroke-width="2.4" stroke-linejoin="round"/>
<path d="M1133.1 603H1892" stroke="#bdbdbd" stroke-width="2" stroke-dasharray="7.6 7.122"/>
<path d="M1133 591C1133.8 590.5 1136.4 588.9 1138 588C1139.6 587.1 1140.7 585.3 1142.4 585.6C1144.1 585.9 1146.1 587.9 1148 590C1149.9 592.1 1152 595.2 1154 598C1156 600.8 1158.3 605.2 1160 607C1161.7 608.8 1162.3 607.4 1164 609C1165.7 610.6 1168.3 617.1 1170 616.6C1171.7 616.1 1172.5 609.3 1174 606C1175.5 602.7 1177.3 597.3 1179 596.6C1180.7 595.9 1182.3 599.8 1184 602C1185.7 604.2 1187 608.1 1189 610C1191 611.9 1193.8 614.1 1196 613.6C1198.2 613.1 1200.3 608.9 1202 607C1203.7 605.1 1204.7 603.3 1206 602C1207.3 600.7 1208.7 599 1210 599C1211.3 599 1212.7 602.5 1214 602C1215.3 601.5 1216.5 597.5 1218 596C1219.5 594.5 1221.5 594 1223 593C1224.5 592 1225.8 591 1227 590C1228.2 589 1229 587.3 1230 587C1231 586.7 1231.8 586.8 1233 588C1234.2 589.2 1235.7 592.6 1237 594C1238.3 595.4 1239.8 596.1 1241 596.4C1242.2 596.7 1243.2 597.2 1244 595.6C1244.8 594 1244.7 589.9 1246 587C1247.3 584.1 1250 580.8 1252 578C1254 575.2 1256.3 570.7 1258 570.4C1259.7 570.1 1260.7 573.1 1262 576C1263.3 578.9 1264.7 584.3 1266 588C1267.3 591.7 1268.3 595.7 1270 598C1271.7 600.3 1274.5 600.9 1276 602C1277.5 603.1 1277.7 604.7 1279 604.4C1280.3 604.1 1282.5 601.3 1284 600C1285.5 598.7 1286.5 597 1288 596.4C1289.5 595.8 1291.5 596 1293 596.4C1294.5 596.8 1295.7 594.4 1297 599C1298.3 603.6 1299.7 615.7 1301 624C1302.3 632.3 1303.5 646 1305 649C1306.5 652 1308.5 644 1310 642C1311.5 640 1312.7 640.7 1314 637C1315.3 633.3 1316.7 626.2 1318 620C1319.3 613.8 1320.7 604.3 1322 600C1323.3 595.7 1324.5 595.3 1326 594C1327.5 592.7 1329.3 592.1 1331 592.4C1332.7 592.7 1334.5 595.2 1336 596C1337.5 596.8 1339 597.2 1340 597C1341 596.8 1340.8 594.8 1342 595C1343.2 595.2 1345 597.3 1347 598C1349 598.7 1352.2 598.6 1354 599C1355.8 599.4 1356.3 600.2 1358 600.4C1359.7 600.6 1362.5 599.9 1364 600C1365.5 600.1 1365.3 601.3 1367 601C1368.7 600.7 1372 598 1374 598C1376 598 1377.7 600.4 1379 601C1380.3 601.6 1380.5 602.3 1382 601.6C1383.5 600.9 1386.3 597.4 1388 597C1389.7 596.6 1390.3 598 1392 599C1393.7 600 1395.7 601.8 1398 603C1400.3 604.2 1403.8 605.8 1406 606C1408.2 606.2 1409.3 605.3 1411 604.4C1412.7 603.5 1414.5 600.3 1416 600.4C1417.5 600.5 1418.8 603.9 1420 605C1421.2 606.1 1422 606.9 1423 607C1424 607.1 1424.8 605.6 1426 605.6C1427.2 605.6 1428.5 606.3 1430 607C1431.5 607.7 1433.3 610.7 1435 610C1436.7 609.3 1438.2 605.2 1440 603C1441.8 600.8 1444 598.6 1446 597C1448 595.4 1449.8 594.2 1452 593.6C1454.2 593 1457.3 593 1459 593.6C1460.7 594.2 1460.8 595.5 1462 597C1463.2 598.5 1465.1 601.9 1466.4 602.4C1467.7 602.9 1468.4 600.5 1470 600C1471.6 599.5 1474.3 599.8 1476 599.6C1477.7 599.4 1478.7 599.5 1480 599C1481.3 598.5 1482.4 596.6 1483.6 596.6C1484.8 596.6 1485.6 597.8 1487 599C1488.4 600.2 1490.2 602.3 1492 604C1493.8 605.7 1496.3 607 1498 609C1499.7 611 1500.5 614 1502 616C1503.5 618 1505.3 621.5 1507 621C1508.7 620.5 1510.5 616 1512 613C1513.5 610 1514.5 606.2 1516 603C1517.5 599.8 1519.3 595.8 1521 594C1522.7 592.2 1524.3 591.8 1526 592C1527.7 592.2 1529.3 593.8 1531 595C1532.7 596.2 1534.3 599.1 1536 599C1537.7 598.9 1539.3 595.3 1541 594.4C1542.7 593.5 1544.5 593.3 1546 593.6C1547.5 593.9 1548.3 596.5 1550 596.4C1551.7 596.3 1554 593.4 1556 593C1558 592.6 1560 593.6 1562 594C1564 594.4 1566 594.6 1568 595.6C1570 596.6 1572.2 598.9 1574 600C1575.8 601.1 1576.7 603.4 1579 602.4C1581.3 601.4 1585.5 595.2 1588 594C1590.5 592.8 1592 595.5 1594 595C1596 594.5 1597.9 592.1 1600 591C1602.1 589.9 1604.7 588.2 1606.4 588.4C1608.1 588.6 1608.7 590.1 1610 592.4C1611.3 594.7 1612.3 599.1 1614 602C1615.7 604.9 1618.2 608.5 1620 610C1621.8 611.5 1623.2 610.3 1625 611C1626.8 611.7 1629.2 614.2 1631 614C1632.8 613.8 1634.2 612.5 1636 610C1637.8 607.5 1640 601.2 1642 599C1644 596.8 1646.3 597.8 1648 597C1649.7 596.2 1650.7 594.9 1652 594.4C1653.3 593.9 1654.7 594.7 1656 594C1657.3 593.3 1658.8 591.1 1660 590C1661.2 588.9 1661.7 587.3 1663 587.6C1664.3 587.9 1666.2 590.9 1668 591.6C1669.8 592.3 1672.3 590.6 1674 592C1675.7 593.4 1676.7 597.7 1678 600C1679.3 602.3 1680.1 603.4 1682 606C1683.9 608.6 1687.3 615 1689.6 615.6C1691.9 616.2 1693.6 611.5 1696 609.6C1698.4 607.7 1701.3 605.2 1704 604.4C1706.7 603.6 1709.5 605.7 1712 605C1714.5 604.3 1716.3 601.3 1719 600.4C1721.7 599.5 1725.2 599.2 1728 599.6C1730.8 600 1733.7 601.9 1736 603C1738.3 604.1 1740.2 605.9 1742 606C1743.8 606.1 1744.7 603.7 1747 603.6C1749.3 603.5 1753.7 604.7 1756 605.6C1758.3 606.5 1759.7 607.7 1761 609C1762.3 610.3 1762.6 613.9 1763.6 613.6C1764.6 613.3 1765.8 607.9 1767 607C1768.2 606.1 1769.5 609.3 1771 608C1772.5 606.7 1774.3 600.9 1776 599C1777.7 597.1 1779.3 597.1 1781 596.4C1782.7 595.7 1784.6 594.6 1786.4 595C1788.2 595.4 1790.1 598.2 1792 599C1793.9 599.8 1795.8 599.2 1798 600C1800.2 600.8 1803 603.8 1805 603.6C1807 603.4 1808.2 599.9 1810 599C1811.8 598.1 1814 598.5 1816 598.4C1818 598.3 1820 597.8 1822 598.4C1824 599 1826.3 601.2 1828 602C1829.7 602.8 1830.2 603.3 1832 603C1833.8 602.7 1836.7 600.6 1839 600.4C1841.3 600.2 1843.5 601.6 1846 602C1848.5 602.4 1851.3 603.1 1854 603C1856.7 602.9 1859.3 601.9 1862 601.6C1864.7 601.3 1867.5 601.3 1870 601C1872.5 600.7 1875 600.4 1877 600C1879 599.6 1880.5 598.7 1882 598.4C1883.5 598.1 1885.3 598.1 1886 598" fill="none" stroke="#f3c634" stroke-width="2.5" stroke-linejoin="round"/>
<path d="M1132.6 57.8 V671.6 H1892.2" fill="none" stroke="#000" stroke-width="2.5"/>
<path d="M1132.6 670.6 V683.2M1186.9 670.6 V677.8M1241.1 670.6 V683.2M1295.4 670.6 V677.8M1349.6 670.6 V683.2M1403.9 670.6 V677.8M1458.2 670.6 V683.2M1512.4 670.6 V677.8M1566.7 670.6 V683.2M1620.9 670.6 V677.8M1675.2 670.6 V683.2M1729.5 670.6 V677.8M1783.7 670.6 V683.2M1838 670.6 V677.8M1892.2 670.6 V683.2M1119.6 149.8 H1133.6M1119.6 263.2 H1133.6M1119.6 376.6 H1133.6M1119.6 490.1 H1133.6M1119.6 603.5 H1133.6M1126.1 92.7 H1133.6M1126.1 206.5 H1133.6M1126.1 319.9 H1133.6M1126.1 433.3 H1133.6M1126.1 546.8 H1133.6M1126.1 660.2 H1133.6" fill="none" stroke="#000" stroke-width="2.4"/>
<text transform="translate(1132.6 712) scale(1 1.05)" class="tk">400</text>
<text transform="translate(1241.1 712) scale(1 1.05)" class="tk">600</text>
<text transform="translate(1349.6 712) scale(1 1.05)" class="tk">800</text>
<text transform="translate(1458.2 712) scale(1 1.05)" class="tk">1000</text>
<text transform="translate(1566.7 712) scale(1 1.05)" class="tk">1200</text>
<text transform="translate(1675.2 712) scale(1 1.05)" class="tk">1400</text>
<text transform="translate(1783.7 712) scale(1 1.05)" class="tk">1600</text>
<text transform="translate(1892.2 712) scale(1 1.05)" class="tk">1800</text>
<text transform="translate(1193.7 37) scale(1 1.07)" class="pkb">520</text>
<text transform="translate(1223.4 209) scale(1 1.07)" class="pkb">566</text>
<text transform="translate(1260.3 163) scale(1 1.07)" class="pkb">635</text>
<text transform="translate(1304.8 71) scale(1 1.07)" class="pkb">714</text>
<text transform="translate(1337.7 187) scale(1 1.07)" class="pkb">776</text>
<text transform="translate(1374 204) scale(1 1.07)" class="pkb">846</text>
<text transform="translate(1414 220) scale(1 1.07)" class="pkb">924</text>
<text transform="translate(1451.2 201.6) scale(1 1.07)" class="pkb">980</text>
<text transform="translate(1521.3 202.4) scale(1 1.07)" class="pkb">1120</text>
<text transform="translate(1566.2 211.6) scale(1 1.07)" class="pkb">1190</text>
<text transform="translate(1631.6 165.6) scale(1 1.07)" class="pkb">1317</text>
<text transform="translate(1696.2 169) scale(1 1.07)" class="pkb">1439</text>
<text transform="translate(1740.7 227) scale(1 1.07)" class="pkb">1524</text>
<text transform="translate(1770.7 191) scale(1 1.07)" class="pkb">1577</text>
<text transform="translate(1813.8 212) scale(1 1.07)" class="pkb">1652</text>
<path d="M1194 42 V69.6M1221.6 215 V242.4M1259.6 171 V198.4M1304.4 80 V107M1337.6 193 V220M1374.4 211 V238M1414 226 V253M1451 210 V237M1525 209.6 V237M1562 216.4 V244M1631 171 V198.4M1696 176.4 V204M1740.4 232 V259M1770 196.4 V224M1813 222 V249" stroke="#000" stroke-width="1.4" fill="none"/>
<path d="M1189.6 68.6L1198.4 68.6L1194 84.6ZM1217.2 241.4L1226 241.4L1221.6 257.4ZM1255.2 197.4L1264 197.4L1259.6 213.4ZM1300 106L1308.8 106L1304.4 122ZM1333.2 219L1342 219L1337.6 235ZM1370 237L1378.8 237L1374.4 253ZM1409.6 252L1418.4 252L1414 268ZM1446.6 236L1455.4 236L1451 252ZM1520.6 236L1529.4 236L1525 252ZM1557.6 243L1566.4 243L1562 259ZM1626.6 197.4L1635.4 197.4L1631 213.4ZM1691.6 203L1700.4 203L1696 219ZM1736 258L1744.8 258L1740.4 274ZM1765.6 223L1774.4 223L1770 239ZM1808.6 248L1817.4 248L1813 264Z" fill="#000"/>
<path d="M651 20.5H724.4" stroke="#46453c" stroke-width="2.2"/>
<text transform="translate(730.2 31.3) scale(1 1.03)" class="lg">HC</text>
<path d="M651 60.1H724.4" stroke="#ff0000" stroke-width="2.2"/>
<text transform="translate(730.2 70.5) scale(1 1.03)" class="lg">pSS</text>
<path d="M651 98.7H724.4" stroke="#f3c634" stroke-width="2.2"/>
<text transform="translate(730.2 109.7) scale(1 1.03)" class="lg">Difference spectra</text>
<path d="M1694.5 12.7H1767" stroke="#46453c" stroke-width="2.2"/>
<text transform="translate(1774 23.7) scale(1 1.03)" class="lg">HC</text>
<path d="M1694.5 52.4H1767" stroke="#16a0f0" stroke-width="2.2"/>
<text transform="translate(1774 62.6) scale(1 1.03)" class="lg">DN</text>
<path d="M1694.5 91.3H1767" stroke="#f3c634" stroke-width="2.2"/>
<text transform="translate(1774 101.5) scale(1 1.03)" class="lg">Difference spectra</text>
<text x="0" y="36.3" class="pl">(a)</text>
<text x="1026" y="39.5" class="pl">(b)</text>
<text transform="translate(30.2 353.5) rotate(-90)" class="yl">Intensity</text>
<text transform="translate(1077.2 347.7) rotate(-90)" class="yl">Intensity</text>
<text x="342" y="766" class="ttl">Wavenumber(cm<tspan font-size="21" dy="-14">-1</tspan><tspan dy="14">)</tspan></text>
<text x="1389" y="766" class="ttl">Wavenumber(cm<tspan font-size="21" dy="-14">-1</tspan><tspan dy="14">)</tspan></text>
</svg></body></html>
